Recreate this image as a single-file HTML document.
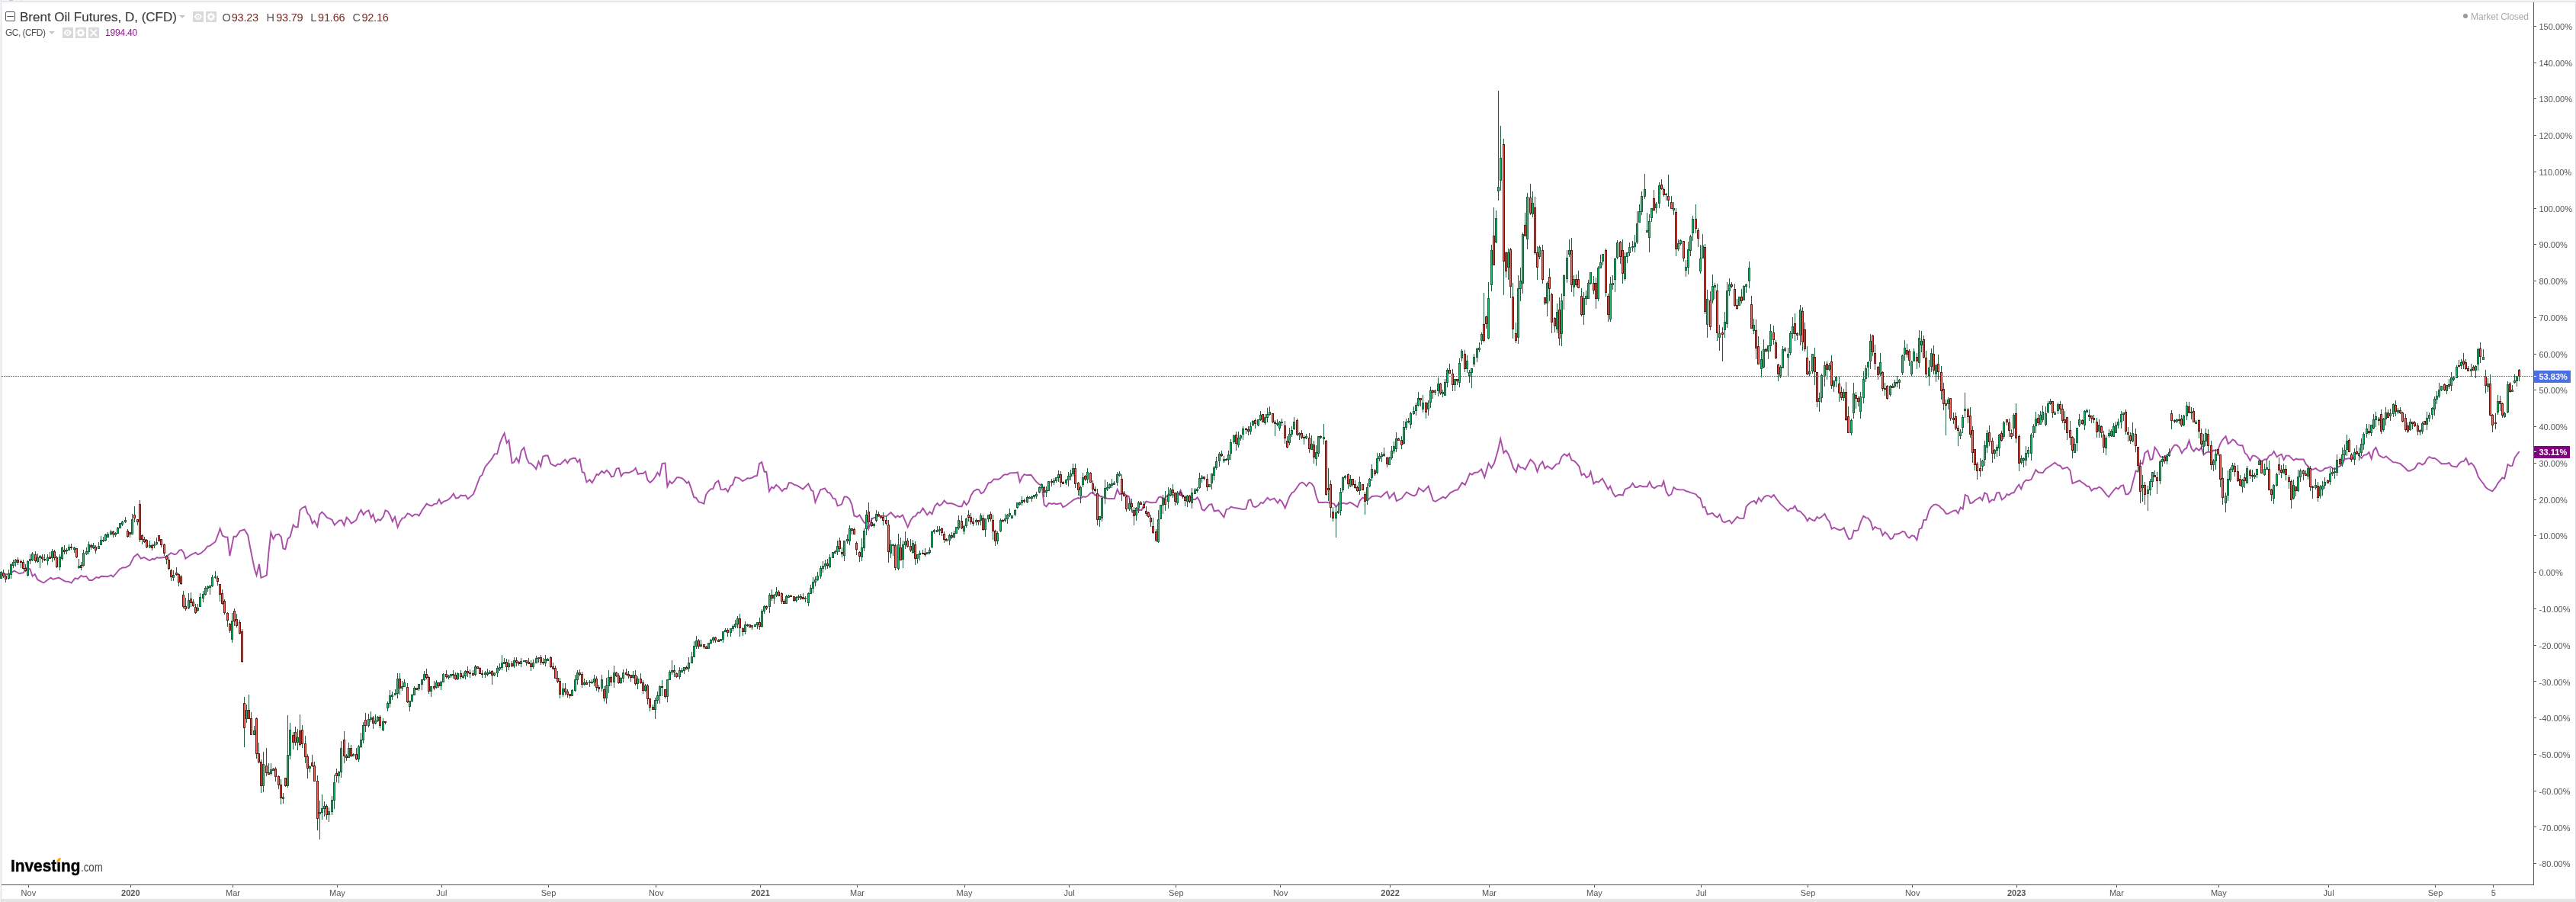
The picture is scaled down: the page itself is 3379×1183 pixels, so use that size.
<!DOCTYPE html>
<html><head><meta charset="utf-8"><title>Chart</title>
<style>
html,body{margin:0;padding:0;background:#fff;}
body{width:3379px;height:1183px;overflow:hidden;position:relative;font-family:"Liberation Sans",sans-serif;}
.abs{position:absolute;white-space:nowrap;}
div{will-change:opacity;}
.yl{position:absolute;left:3330.5px;font-size:11px;color:#555;line-height:12px;height:12px;white-space:nowrap;}
.xl{position:absolute;top:1165px;font-size:11px;color:#555;line-height:12px;width:60px;text-align:center;white-space:nowrap;}
.xl.b{font-weight:bold;}
.ic{position:absolute;width:14px;height:14px;background:#d9d9d9;}
.ohl,.ohn{top:13px;font-size:14.5px;line-height:20px;}
.ohn{color:#7a2a22;letter-spacing:-0.2px;}
</style></head><body>

<div class="abs" style="left:0;top:0;width:3379px;height:2px;background:#f2f4f8"></div>
<div class="abs" style="left:0;top:2px;width:3379px;height:1px;background:#d9dde1"></div>
<div class="abs" style="left:12px;top:0;width:5px;height:1px;background:#c2c3c5"></div>
<div class="abs" style="left:27px;top:0;width:1px;height:2px;background:#dadde2"></div>
<div class="abs" style="left:3378px;top:2px;width:1px;height:1178px;background:#d9dde1"></div>
<div class="abs" style="left:0;top:1179px;width:3379px;height:4px;background:#e4e5e7"></div>
<div class="abs" style="left:0;top:0;width:1px;height:1183px;background:#f4f5f9"></div>
<div class="abs" style="left:1px;top:0;width:1px;height:1183px;background:#dadde2"></div>
<svg class="abs" style="left:0;top:0" width="3379" height="1183" viewBox="0 0 3379 1183">
<polyline fill="none" stroke="#a443a4" stroke-opacity="0.95" stroke-width="1.9" stroke-linejoin="miter" stroke-miterlimit="5" points="1.3,751.7 8.0,753.1 12.0,753.1 18.6,748.5 25.3,752.3 30.6,751.2 34.6,745.1 39.4,746.4 42.6,755.7 45.8,753.1 49.2,760.2 57.2,764.5 66.5,757.6 69.7,759.7 77.1,757.6 85.1,762.4 90.4,762.9 93.6,764.5 98.4,758.4 102.4,759.2 106.4,754.9 109.6,756.5 113.1,755.7 117.1,761.0 121.0,761.0 126.4,757.1 129.6,757.9 133.0,755.7 141.0,756.3 145.8,754.4 148.4,756.5 157.0,746.4 160.9,744.5 164.9,744.3 170.3,741.1 175.6,730.4 180.4,726.5 184.9,732.6 188.9,731.0 196.3,735.2 200.1,732.6 202.2,733.6 206.2,731.0 208.8,731.8 215.5,731.0 219.5,729.1 224.3,725.1 228.8,727.3 231.4,726.5 235.4,721.7 238.1,721.1 240.8,724.6 243.4,732.6 250.1,727.8 256.7,724.6 259.4,727.3 263.4,725.7 268.7,721.1 272.1,716.6 275.3,715.8 282.5,710.5 286.0,701.2 288.6,693.2 291.8,702.5 295.3,704.4 298.5,704.4 301.4,729.1 306.5,703.8 309.9,703.8 314.7,696.4 320.6,694.5 325.1,701.7 328.5,719.8 333.9,746.4 336.5,754.4 340.0,739.8 342.4,757.8 345.8,756.5 349.8,754.3 352.4,724.8 355.3,698.4 358.5,706.8 361.7,701.6 365.6,700.5 368.8,704.2 371.4,719.5 374.3,720.3 377.5,706.8 380.7,703.7 384.6,688.4 387.5,691.3 390.7,691.3 393.4,669.3 396.5,666.2 400.5,664.1 403.4,673.3 406.6,676.7 409.7,686.5 412.6,683.1 416.3,690.5 419.2,674.6 422.4,671.5 425.6,674.6 428.7,678.6 431.9,679.9 435.6,681.8 438.8,688.6 442.2,685.2 445.1,682.5 448.3,682.5 451.4,689.1 454.6,678.6 457.8,681.8 460.9,686.5 464.1,684.4 467.3,682.0 470.4,674.1 473.6,668.8 476.8,675.2 479.9,671.2 483.6,669.3 486.8,679.1 489.4,674.6 492.6,684.7 495.8,681.2 498.9,682.5 502.9,677.3 505.5,669.3 508.7,670.7 511.6,675.4 514.8,683.9 518.0,677.8 521.6,691.3 524.8,683.9 528.0,679.4 530.6,679.1 534.6,673.3 537.8,674.6 540.7,677.3 543.8,674.6 547.0,674.6 549.6,676.5 553.6,669.3 559.7,660.6 562.8,662.5 566.3,663.5 569.7,660.9 572.9,660.6 576.0,654.8 578.7,660.6 582.1,657.5 585.5,656.7 588.7,654.8 591.9,651.7 594.8,647.4 597.9,653.5 601.1,653.0 604.5,649.6 607.7,650.3 610.6,649.6 613.8,654.3 617.7,650.9 620.9,648.2 623.5,641.6 629.6,625.0 632.3,623.2 636.2,612.6 639.4,608.6 643.3,604.1 646.0,600.2 648.6,595.4 652.1,595.4 656.0,580.9 658.7,573.8 661.6,568.2 664.7,580.9 667.4,577.5 671.6,607.3 674.0,606.5 677.4,600.7 680.6,606.5 683.7,591.5 687.4,587.0 690.9,601.2 693.8,607.3 696.4,607.8 699.6,610.7 703.3,615.2 706.4,605.2 709.3,611.8 712.2,598.6 715.4,597.5 718.6,597.5 722.3,608.1 725.2,610.0 728.6,611.3 731.8,608.6 734.7,609.2 741.3,602.8 744.4,607.3 747.6,602.6 751.0,601.2 754.5,600.7 757.6,606.0 760.5,602.6 763.7,619.2 766.4,620.0 769.5,632.4 773.5,629.2 776.7,633.2 779.6,627.9 782.7,621.8 784.8,623.2 789.3,617.9 792.5,620.5 795.7,616.6 799.1,620.0 802.0,625.3 805.2,624.5 808.6,614.7 811.8,613.9 814.9,624.5 817.8,620.5 821.0,619.7 825.0,620.0 828.4,618.4 830.8,617.3 833.7,613.9 836.8,621.8 840.3,621.0 843.4,621.0 846.6,618.4 849.5,629.8 852.7,632.9 855.8,630.3 859.3,625.8 862.4,619.7 865.3,623.7 868.5,608.1 872.5,607.3 875.4,638.2 878.5,631.1 881.2,634.2 884.4,631.1 887.8,626.3 891.0,626.3 894.4,627.1 897.6,629.8 901.0,633.7 903.4,631.6 906.8,641.1 910.2,652.2 912.9,652.7 916.6,658.3 919.2,658.8 923.4,660.6 926.1,648.8 929.2,644.3 932.7,641.1 935.3,641.1 938.5,633.2 942.4,630.5 945.6,642.2 948.5,642.4 951.7,640.8 954.8,644.8 958.3,637.1 960.9,635.8 964.3,625.8 967.5,626.6 970.1,627.6 974.1,631.1 977.3,629.2 980.7,627.1 983.3,627.6 986.8,626.6 989.9,624.5 993.1,623.9 996.0,608.1 999.2,606.0 1002.6,618.7 1005.3,618.7 1009.0,644.3 1012.2,638.8 1014.9,640.4 1018.2,635.9 1021.7,638.8 1025.9,644.3 1028.8,641.0 1031.7,641.0 1034.8,633.3 1037.7,633.3 1042.1,635.9 1045.4,636.6 1053.2,641.5 1060.3,634.4 1064.3,643.2 1066.5,643.9 1069.4,658.8 1076.0,642.6 1082.0,640.4 1085.8,645.9 1088.7,646.6 1092.7,653.7 1095.8,654.3 1098.7,663.6 1104.2,661.4 1107.5,651.4 1110.9,651.7 1114.2,654.3 1117.5,662.1 1120.4,676.5 1124.2,678.0 1127.5,675.4 1133.5,685.4 1136.3,686.5 1139.2,694.2 1143.7,680.3 1146.3,679.1 1153.0,676.9 1163.0,676.9 1168.5,672.1 1174.7,678.7 1177.4,676.5 1180.2,678.3 1184.0,675.4 1190.7,691.3 1194.7,682.0 1198.0,677.6 1200.6,677.2 1204.0,672.1 1206.6,672.7 1210.6,666.5 1216.2,675.4 1219.5,671.4 1222.6,674.3 1226.1,663.9 1229.5,659.9 1232.3,663.2 1235.5,661.0 1238.6,656.5 1242.3,660.3 1248.3,660.3 1251.6,661.4 1257.6,664.3 1261.6,664.3 1264.5,657.2 1267.6,662.1 1270.5,658.8 1273.6,649.9 1277.1,644.3 1281.6,641.7 1283.8,642.1 1287.1,647.2 1290.4,645.4 1296.6,633.3 1299.7,632.8 1303.7,628.4 1309.3,628.8 1312.6,627.0 1315.9,623.3 1318.6,622.2 1321.5,622.6 1324.6,620.4 1332.6,620.0 1334.8,619.5 1337.7,632.1 1340.8,625.5 1343.6,622.2 1347.0,623.3 1352.5,622.8 1356.9,628.8 1360.3,632.8 1363.6,635.5 1366.5,636.6 1369.6,662.1 1372.5,664.3 1375.8,659.9 1380.0,661.0 1382.4,660.1 1385.5,661.2 1391.5,660.1 1394.4,665.2 1398.4,663.0 1404.4,658.6 1408.8,655.2 1414.3,653.0 1417.2,653.7 1420.5,651.2 1423.4,651.9 1426.5,650.8 1430.3,646.8 1433.6,645.9 1436.5,649.7 1439.6,648.1 1443.2,650.8 1446.5,651.9 1452.5,653.7 1461.8,654.1 1465.6,641.9 1468.7,648.1 1471.5,647.5 1474.6,648.1 1480.9,651.2 1483.1,660.8 1485.3,671.9 1487.5,673.0 1490.8,669.0 1497.5,669.0 1500.8,661.9 1503.5,657.5 1509.5,659.2 1516.3,659.0 1519.7,652.4 1522.5,651.5 1525.6,654.1 1528.5,653.0 1532.5,648.6 1538.5,649.0 1544.7,650.8 1548.5,643.0 1551.8,650.8 1558.4,653.0 1563.8,654.8 1567.8,655.2 1570.6,652.4 1573.7,657.5 1576.6,668.1 1579.7,669.7 1586.2,661.9 1589.5,661.2 1592.6,670.3 1598.4,669.2 1602.3,674.1 1605.5,678.5 1608.6,668.1 1611.7,667.4 1614.8,664.6 1618.5,665.9 1624.5,666.8 1630.7,668.1 1634.5,667.4 1637.6,656.3 1640.5,655.2 1643.6,664.1 1646.7,665.2 1650.7,663.0 1653.8,659.2 1656.7,660.1 1662.7,652.6 1665.8,655.9 1671.5,653.7 1676.0,659.7 1678.8,655.2 1681.9,658.6 1685.7,666.3 1691.5,651.2 1694.6,646.4 1697.7,644.6 1704.8,634.2 1708.1,632.6 1710.8,634.2 1713.6,637.5 1717.4,632.6 1720.5,634.2 1723.6,638.6 1726.5,650.8 1729.6,659.0 1735.8,659.0 1739.6,658.6 1745.6,659.7 1750.0,660.8 1752.4,665.0 1755.5,660.9 1758.6,660.9 1761.7,659.7 1766.4,660.9 1771.0,658.8 1774.8,660.9 1780.6,665.0 1783.8,656.6 1787.5,652.6 1791.2,654.1 1794.3,655.7 1799.6,651.0 1806.7,650.4 1811.4,651.9 1816.3,647.3 1819.4,644.8 1822.5,653.5 1828.7,646.3 1831.8,657.2 1838.7,653.5 1844.9,645.4 1850.8,648.8 1854.8,650.4 1857.9,648.5 1861.0,640.1 1867.2,644.8 1873.7,637.7 1876.8,647.3 1879.9,656.6 1883.0,657.8 1893.0,651.6 1896.1,653.5 1902.3,646.3 1908.5,643.2 1912.2,642.3 1917.8,633.0 1921.8,636.1 1928.0,620.9 1930.8,622.5 1933.9,620.0 1938.6,619.4 1943.2,615.3 1947.3,626.2 1952.6,607.6 1956.3,613.8 1960.0,607.6 1965.0,590.2 1968.2,575.6 1972.4,594.1 1975.3,590.7 1978.5,595.4 1981.7,603.4 1984.8,613.4 1988.8,619.2 1991.4,609.2 1994.3,613.4 1997.5,613.4 2000.7,615.8 2004.6,608.1 2007.5,602.8 2010.7,605.5 2013.4,609.2 2016.5,618.7 2019.7,610.0 2023.4,605.5 2026.6,614.4 2029.7,611.3 2035.8,615.2 2041.6,608.6 2045.0,608.1 2048.2,599.4 2051.9,595.4 2055.6,598.1 2058.2,594.9 2061.4,603.4 2065.1,604.7 2068.3,607.8 2071.4,611.8 2074.6,623.2 2077.8,621.3 2080.9,626.3 2084.1,624.5 2086.5,618.7 2090.4,634.5 2093.6,631.6 2096.8,632.4 2101.8,627.6 2105.7,634.5 2109.4,641.6 2112.1,637.7 2115.8,646.9 2118.9,651.4 2122.9,649.0 2125.5,648.8 2128.7,649.6 2131.6,641.6 2134.8,640.3 2138.0,639.0 2141.6,633.7 2144.8,639.0 2148.0,639.0 2151.2,636.9 2154.6,638.2 2160.7,638.2 2163.8,631.9 2167.0,638.5 2170.2,640.3 2173.6,637.7 2176.5,636.9 2179.7,637.7 2182.3,631.1 2185.7,645.1 2188.9,650.3 2192.3,648.2 2195.5,639.0 2198.7,641.6 2202.1,642.2 2208.7,642.4 2211.9,644.3 2214.8,644.8 2217.9,646.1 2224.5,648.2 2227.7,652.2 2230.3,653.5 2233.8,665.4 2236.4,664.9 2239.6,674.6 2243.0,673.8 2246.2,672.8 2249.6,676.7 2252.8,678.6 2255.7,674.6 2259.4,683.9 2262.3,685.2 2266.0,683.3 2268.6,682.5 2271.5,686.5 2278.7,677.8 2281.8,679.9 2287.4,679.9 2290.5,664.6 2293.2,661.4 2297.1,658.3 2301.1,656.9 2303.7,660.6 2306.9,653.0 2310.3,657.5 2313.8,652.2 2316.9,650.1 2320.1,650.1 2323.3,652.2 2326.7,649.0 2330.1,654.0 2335.4,660.9 2339.4,664.6 2345.4,670.1 2348.6,666.7 2351.8,666.7 2354.4,663.5 2357.8,669.9 2361.3,670.7 2364.4,673.8 2367.6,677.3 2370.8,683.1 2373.4,679.4 2377.1,682.0 2380.3,683.1 2383.5,677.8 2386.1,679.9 2389.5,677.8 2393.5,673.8 2396.7,680.7 2399.6,683.9 2402.7,693.6 2405.9,691.8 2409.3,693.9 2413.3,695.2 2415.9,694.4 2418.8,692.3 2422.0,700.5 2425.2,707.1 2428.6,706.3 2431.8,695.7 2434.4,696.3 2437.3,695.2 2441.0,683.9 2444.4,676.7 2447.6,679.1 2450.2,679.4 2453.7,683.9 2456.8,694.4 2459.5,691.0 2462.9,693.1 2466.6,693.9 2469.5,702.3 2472.7,697.9 2475.8,701.0 2479.8,707.1 2482.4,706.3 2485.3,700.5 2488.5,700.5 2492.5,699.2 2495.4,697.1 2498.5,697.6 2501.7,703.7 2504.4,705.5 2507.8,702.3 2511.0,703.1 2514.4,708.4 2517.6,693.9 2520.7,692.6 2523.4,682.0 2526.8,681.8 2530.2,670.1 2532.9,665.4 2536.6,662.0 2539.2,661.4 2543.4,663.3 2546.1,666.2 2549.2,668.6 2552.7,673.8 2555.3,673.8 2558.5,672.0 2562.4,669.9 2565.6,669.3 2568.5,673.3 2571.7,665.4 2574.8,667.5 2577.7,649.0 2581.4,650.9 2584.3,660.1 2587.5,659.3 2590.7,656.2 2594.1,654.0 2597.3,652.2 2600.2,656.2 2603.3,646.4 2606.5,648.2 2609.4,658.8 2613.1,655.4 2615.8,656.2 2619.2,646.4 2622.6,646.1 2625.8,655.4 2630.0,652.2 2632.4,648.0 2635.3,649.3 2638.5,646.7 2641.7,646.1 2644.6,640.8 2648.3,635.5 2651.2,641.3 2654.4,632.8 2657.6,629.6 2660.6,630.2 2664.5,628.8 2670.4,616.1 2673.6,619.5 2679.7,620.1 2683.4,615.0 2689.5,611.0 2695.4,606.8 2699.4,610.2 2702.3,610.7 2705.5,615.0 2711.6,612.9 2715.4,616.9 2718.5,634.2 2724.7,631.5 2727.9,630.2 2730.0,632.0 2734.2,634.8 2737.3,637.5 2740.4,638.0 2743.5,643.7 2746.6,640.8 2750.4,640.8 2753.5,638.6 2756.6,640.8 2759.9,644.6 2762.8,648.6 2766.1,651.9 2769.2,647.5 2772.6,643.1 2775.7,639.7 2778.8,641.3 2782.1,637.1 2785.2,636.4 2788.3,648.2 2791.4,648.2 2794.7,644.2 2797.6,633.1 2801.6,617.5 2804.5,618.7 2807.6,606.5 2810.5,608.7 2813.4,594.3 2817.4,590.9 2820.5,603.1 2823.4,602.0 2826.5,586.5 2829.6,590.9 2833.6,598.7 2836.7,599.8 2839.8,598.7 2842.9,597.1 2846.0,594.3 2849.1,588.3 2852.4,583.8 2855.5,583.8 2858.6,586.9 2861.9,594.3 2865.0,589.8 2868.2,587.6 2871.5,577.6 2874.6,588.3 2877.7,592.0 2880.8,587.6 2884.6,590.9 2887.7,586.9 2890.6,596.5 2893.7,593.6 2896.8,592.7 2900.5,593.2 2903.6,590.5 2906.7,590.9 2909.4,589.8 2912.5,581.6 2915.6,576.5 2919.6,572.1 2922.7,582.1 2925.8,579.8 2928.5,576.5 2931.6,578.1 2935.4,583.2 2938.5,584.3 2941.6,584.3 2944.7,594.3 2947.6,596.5 2951.5,604.2 2954.7,597.6 2957.3,597.6 2960.4,599.4 2963.5,602.5 2966.6,605.3 2970.6,602.5 2973.5,602.5 2976.6,597.6 2979.7,596.5 2982.8,592.0 2986.6,599.4 2989.7,597.1 2992.8,595.8 2995.7,603.1 2998.6,597.6 3002.6,597.6 3005.7,600.9 3008.8,603.8 3011.7,601.6 3014.5,602.5 3021.6,602.5 3024.7,608.7 3027.8,612.0 3030.5,615.3 3033.6,615.8 3037.6,614.2 3040.5,616.4 3043.4,618.0 3046.5,617.1 3049.6,614.2 3053.3,613.6 3056.7,612.0 3060.0,614.2 3062.5,615.7 3065.4,613.0 3069.2,611.7 3072.4,609.0 3075.6,602.4 3078.7,601.6 3081.7,601.0 3084.6,602.9 3088.3,598.4 3091.5,593.0 3094.4,597.0 3097.6,601.0 3100.6,597.0 3104.6,596.2 3107.5,593.0 3110.7,601.8 3113.6,590.4 3116.5,586.9 3120.5,597.0 3123.5,598.9 3126.7,600.5 3129.8,598.4 3132.8,601.0 3139.4,606.4 3142.4,606.4 3148.5,608.2 3155.4,614.3 3158.3,617.5 3161.3,617.5 3167.6,614.3 3171.6,607.7 3174.0,607.2 3177.2,609.5 3180.4,607.7 3183.3,602.4 3186.5,599.2 3190.3,601.0 3193.7,601.0 3196.7,602.9 3202.5,608.2 3209.4,608.2 3212.6,606.9 3215.6,611.1 3222.5,612.5 3225.4,608.2 3228.3,605.6 3231.8,605.0 3234.7,601.0 3238.4,609.5 3241.6,607.2 3244.6,610.3 3247.5,615.7 3250.7,625.0 3253.6,629.5 3257.6,634.3 3260.5,639.1 3263.5,641.5 3269.3,644.4 3273.6,639.1 3276.5,633.8 3282.4,626.3 3285.3,627.6 3289.5,609.0 3292.5,611.1 3295.4,610.9 3298.6,600.5 3301.5,596.2 3304.7,592.2"/>
<g shape-rendering="crispEdges">
<path fill="#1f5d3d" d="M1 749h1v10h-1zM0 750h3v9h-3zM4 747h1v11h-1zM7 753h1v11h-1zM11 747h1v13h-1zM10 752h3v7h-3zM14 739h1v20h-1zM13 740h3v14h-3zM17 734h1v11h-1zM16 737h3v5h-3zM20 733h1v10h-1zM19 734h3v4h-3zM23 731h1v10h-1zM27 734h1v11h-1zM30 734h1v13h-1zM33 740h1v10h-1zM36 735h1v21h-1zM35 736h3v19h-3zM39 727h1v13h-1zM38 733h3v3h-3zM42 724h1v12h-1zM41 726h3v9h-3zM46 723h1v15h-1zM49 726h1v12h-1zM48 731h3v6h-3zM52 728h1v17h-1zM51 729h3v3h-3zM55 727h1v11h-1zM58 727h1v9h-1zM62 727h1v14h-1zM61 731h3v5h-3zM65 724h1v9h-1zM68 720h1v17h-1zM67 723h3v9h-3zM71 721h1v14h-1zM74 729h1v16h-1zM78 727h1v21h-1zM77 730h3v14h-3zM81 717h1v18h-1zM80 718h3v15h-3zM84 715h1v12h-1zM87 719h1v8h-1zM86 721h3v2h-3zM90 714h1v8h-1zM89 717h3v5h-3zM93 713h1v8h-1zM97 717h1v8h-1zM96 718h3v3h-3zM100 719h1v13h-1zM103 733h1v13h-1zM102 742h3v3h-3zM106 737h1v11h-1zM109 721h1v22h-1zM108 725h3v17h-3zM113 718h1v10h-1zM112 723h3v4h-3zM116 710h1v17h-1zM115 714h3v10h-3zM119 713h1v8h-1zM122 712h1v8h-1zM121 715h3v4h-3zM125 715h1v11h-1zM129 711h1v9h-1zM128 716h3v4h-3zM132 703h1v12h-1zM131 708h3v7h-3zM135 704h1v7h-1zM134 708h3v2h-3zM138 700h1v10h-1zM137 701h3v8h-3zM141 698h1v7h-1zM140 700h3v5h-3zM145 695h1v7h-1zM144 697h3v4h-3zM148 696h1v9h-1zM151 698h1v6h-1zM150 699h3v3h-3zM154 691h1v9h-1zM153 692h3v8h-3zM157 686h1v7h-1zM156 686h3v7h-3zM160 683h1v7h-1zM159 684h3v4h-3zM164 678h1v8h-1zM163 682h3v3h-3zM167 694h1v11h-1zM170 698h1v7h-1zM173 674h1v27h-1zM172 681h3v20h-3zM176 664h1v21h-1zM180 681h1v8h-1zM183 656h1v55h-1zM186 701h1v13h-1zM189 704h1v8h-1zM192 707h1v12h-1zM196 709h1v10h-1zM195 715h3v3h-3zM199 713h1v9h-1zM202 710h1v9h-1zM201 714h3v2h-3zM205 705h1v10h-1zM204 711h3v3h-3zM208 702h1v8h-1zM211 707h1v11h-1zM215 713h1v16h-1zM218 728h1v12h-1zM221 730h1v18h-1zM224 746h1v16h-1zM227 748h1v14h-1zM226 754h3v4h-3zM231 744h1v11h-1zM234 752h1v17h-1zM237 754h1v13h-1zM240 775h1v23h-1zM243 784h1v17h-1zM247 778h1v21h-1zM246 787h3v11h-3zM250 777h1v19h-1zM253 786h1v10h-1zM256 792h1v13h-1zM259 792h1v10h-1zM258 797h3v4h-3zM262 778h1v18h-1zM261 783h3v13h-3zM266 775h1v15h-1zM265 779h3v6h-3zM269 769h1v12h-1zM268 771h3v9h-3zM272 768h1v8h-1zM271 769h3v3h-3zM275 767h1v13h-1zM274 768h3v3h-3zM278 754h1v16h-1zM277 757h3v12h-3zM282 749h1v10h-1zM281 756h3v2h-3zM285 755h1v13h-1zM288 766h1v23h-1zM291 773h1v20h-1zM294 786h1v20h-1zM298 803h1v19h-1zM301 817h1v13h-1zM304 804h1v39h-1zM303 814h3v25h-3zM307 798h1v23h-1zM310 805h1v18h-1zM314 813h1v19h-1zM317 825h1v44h-1zM320 914h1v66h-1zM323 924h1v24h-1zM322 931h3v12h-3zM326 911h1v32h-1zM329 934h1v30h-1zM333 952h1v12h-1zM332 958h3v6h-3zM336 941h1v54h-1zM339 974h1v27h-1zM342 996h1v44h-1zM345 986h1v53h-1zM344 1002h3v29h-3zM349 981h1v37h-1zM352 1001h1v14h-1zM355 1001h1v16h-1zM354 1009h3v6h-3zM358 1007h1v4h-1zM357 1008h3v3h-3zM361 1006h1v19h-1zM365 1017h1v18h-1zM368 1022h1v33h-1zM371 1040h1v14h-1zM370 1045h3v3h-3zM374 1020h1v12h-1zM377 938h1v95h-1zM376 990h3v41h-3zM380 948h1v48h-1zM379 957h3v34h-3zM384 960h1v23h-1zM387 953h1v25h-1zM390 956h1v28h-1zM389 967h3v7h-3zM393 937h1v42h-1zM396 951h1v30h-1zM400 965h1v36h-1zM403 989h1v32h-1zM406 1004h1v9h-1zM405 1005h3v3h-3zM409 990h1v16h-1zM412 999h1v26h-1zM416 1017h1v72h-1zM419 1050h1v51h-1zM418 1065h3v3h-3zM422 1042h1v33h-1zM421 1060h3v6h-3zM425 1051h1v20h-1zM424 1057h3v4h-3zM428 1055h1v20h-1zM431 1059h1v19h-1zM430 1064h3v5h-3zM435 1044h1v25h-1zM434 1049h3v16h-3zM438 1016h1v45h-1zM437 1026h3v24h-3zM441 1008h1v18h-1zM444 1011h1v16h-1zM443 1012h3v6h-3zM447 972h1v48h-1zM446 981h3v32h-3zM451 959h1v42h-1zM454 989h1v9h-1zM457 974h1v20h-1zM456 981h3v13h-3zM460 977h1v16h-1zM463 988h1v4h-1zM462 989h3v3h-3zM467 981h1v16h-1zM470 977h1v22h-1zM469 979h3v17h-3zM473 961h1v20h-1zM472 970h3v10h-3zM476 947h1v28h-1zM475 951h3v20h-3zM479 935h1v25h-1zM483 936h1v18h-1zM482 943h3v9h-3zM486 933h1v14h-1zM485 941h3v3h-3zM489 939h1v17h-1zM492 937h1v13h-1zM491 945h3v4h-3zM495 939h1v8h-1zM494 940h3v6h-3zM498 938h1v17h-1zM502 942h1v17h-1zM501 946h3v12h-3zM505 946h1v4h-1zM508 920h1v13h-1zM507 922h3v7h-3zM511 905h1v23h-1zM510 912h3v11h-3zM514 907h1v11h-1zM513 911h3v3h-3zM518 904h1v8h-1zM517 909h3v3h-3zM521 883h1v33h-1zM520 890h3v20h-3zM524 883h1v28h-1zM527 893h1v13h-1zM526 900h3v3h-3zM530 891h1v10h-1zM529 895h3v6h-3zM534 896h1v26h-1zM537 919h1v14h-1zM536 919h3v8h-3zM540 910h1v11h-1zM539 911h3v9h-3zM543 900h1v12h-1zM542 902h3v10h-3zM546 902h1v3h-1zM549 897h1v9h-1zM548 897h3v7h-3zM553 891h1v14h-1zM552 891h3v7h-3zM556 880h1v13h-1zM555 884h3v8h-3zM559 877h1v14h-1zM562 886h1v24h-1zM565 900h1v14h-1zM564 900h3v7h-3zM569 893h1v12h-1zM572 892h1v11h-1zM571 895h3v7h-3zM575 895h1v7h-1zM578 893h1v12h-1zM577 894h3v6h-3zM581 883h1v12h-1zM580 884h3v11h-3zM585 879h1v11h-1zM588 885h1v6h-1zM587 886h3v3h-3zM591 884h1v5h-1zM590 884h3v3h-3zM594 879h1v11h-1zM597 882h1v10h-1zM600 882h1v10h-1zM599 883h3v8h-3zM604 879h1v12h-1zM607 882h1v8h-1zM606 886h3v3h-3zM610 879h1v12h-1zM609 880h3v7h-3zM613 874h1v14h-1zM616 878h1v11h-1zM620 879h1v7h-1zM623 872h1v15h-1zM622 874h3v11h-3zM626 874h1v3h-1zM629 875h1v9h-1zM632 879h1v10h-1zM636 880h1v9h-1zM635 882h3v3h-3zM639 877h1v10h-1zM638 882h3v3h-3zM642 879h1v5h-1zM641 881h3v3h-3zM645 879h1v19h-1zM648 882h1v5h-1zM647 882h3v4h-3zM652 873h1v15h-1zM651 876h3v7h-3zM655 870h1v10h-1zM654 875h3v3h-3zM658 859h1v20h-1zM657 869h3v7h-3zM661 863h1v7h-1zM660 868h3v3h-3zM664 864h1v17h-1zM667 865h1v14h-1zM666 870h3v5h-3zM671 867h1v8h-1zM674 862h1v14h-1zM673 866h3v8h-3zM677 862h1v12h-1zM680 867h1v6h-1zM683 863h1v12h-1zM682 867h3v4h-3zM687 866h1v2h-1zM686 866h3v2h-3zM690 866h1v7h-1zM693 863h1v8h-1zM696 866h1v14h-1zM699 865h1v12h-1zM698 869h3v6h-3zM703 860h1v10h-1zM702 863h3v7h-3zM706 862h1v7h-1zM705 862h3v2h-3zM709 859h1v13h-1zM712 863h1v9h-1zM715 859h1v15h-1zM714 864h3v6h-3zM718 863h1v3h-1zM717 864h3v3h-3zM722 861h1v15h-1zM725 869h1v10h-1zM728 873h1v17h-1zM731 880h1v16h-1zM734 889h1v27h-1zM738 896h1v18h-1zM737 903h3v8h-3zM741 896h1v16h-1zM744 904h1v11h-1zM747 910h1v6h-1zM750 904h1v9h-1zM749 905h3v8h-3zM754 885h1v22h-1zM753 891h3v15h-3zM757 879h1v19h-1zM756 882h3v10h-3zM760 878h1v9h-1zM763 881h1v21h-1zM766 890h1v9h-1zM765 895h3v3h-3zM769 892h1v5h-1zM773 892h1v9h-1zM772 894h3v2h-3zM776 891h1v6h-1zM775 894h3v2h-3zM779 885h1v15h-1zM778 890h3v5h-3zM782 887h1v19h-1zM785 898h1v10h-1zM789 885h1v22h-1zM788 891h3v12h-3zM792 900h1v20h-1zM795 889h1v34h-1zM794 899h3v17h-3zM798 879h1v30h-1zM797 888h3v12h-3zM801 886h1v14h-1zM805 873h1v29h-1zM804 882h3v13h-3zM808 881h1v7h-1zM811 883h1v14h-1zM814 888h1v9h-1zM813 889h3v7h-3zM817 878h1v17h-1zM816 882h3v8h-3zM821 877h1v9h-1zM824 880h1v10h-1zM827 885h1v9h-1zM830 880h1v10h-1zM829 885h3v4h-3zM833 879h1v20h-1zM836 887h1v17h-1zM835 890h3v7h-3zM840 883h1v14h-1zM843 892h1v18h-1zM846 897h1v10h-1zM845 899h3v7h-3zM849 897h1v27h-1zM852 916h1v17h-1zM856 924h1v7h-1zM859 915h1v28h-1zM858 918h3v13h-3zM862 907h1v16h-1zM861 912h3v7h-3zM865 899h1v24h-1zM864 900h3v13h-3zM868 892h1v21h-1zM872 904h1v12h-1zM875 891h1v30h-1zM874 891h3v23h-3zM878 879h1v13h-1zM877 881h3v11h-3zM881 866h1v19h-1zM880 879h3v3h-3zM884 872h1v16h-1zM887 882h1v7h-1zM891 875h1v16h-1zM890 879h3v9h-3zM894 876h1v5h-1zM893 879h3v3h-3zM897 875h1v9h-1zM896 875h3v5h-3zM900 873h1v4h-1zM903 862h1v19h-1zM902 869h3v8h-3zM907 855h1v15h-1zM906 861h3v9h-3zM910 841h1v21h-1zM909 847h3v15h-3zM913 834h1v17h-1zM912 840h3v8h-3zM916 838h1v13h-1zM919 839h1v10h-1zM918 845h3v3h-3zM923 845h1v6h-1zM926 847h1v4h-1zM929 843h1v8h-1zM928 843h3v8h-3zM932 838h1v7h-1zM931 839h3v5h-3zM935 835h1v8h-1zM934 836h3v4h-3zM938 835h1v8h-1zM942 838h1v4h-1zM945 838h1v3h-1zM944 838h3v3h-3zM948 828h1v15h-1zM947 828h3v11h-3zM951 824h1v5h-1zM950 826h3v3h-3zM954 824h1v11h-1zM958 824h1v11h-1zM957 824h3v6h-3zM961 819h1v9h-1zM960 821h3v4h-3zM964 813h1v11h-1zM963 818h3v4h-3zM967 808h1v16h-1zM966 811h3v8h-3zM970 805h1v30h-1zM974 823h1v11h-1zM977 815h1v17h-1zM976 819h3v10h-3zM980 818h1v4h-1zM979 819h3v2h-3zM983 819h1v4h-1zM986 820h1v6h-1zM985 820h3v3h-3zM990 818h1v4h-1zM989 819h3v3h-3zM993 816h1v9h-1zM992 816h3v4h-3zM996 810h1v16h-1zM999 799h1v24h-1zM998 801h3v21h-3zM1002 794h1v11h-1zM1001 795h3v7h-3zM1005 794h1v6h-1zM1009 778h1v26h-1zM1008 780h3v16h-3zM1012 773h1v15h-1zM1015 779h1v13h-1zM1014 780h3v5h-3zM1018 770h1v13h-1zM1017 776h3v5h-3zM1021 774h1v8h-1zM1025 777h1v15h-1zM1028 786h1v6h-1zM1031 780h1v12h-1zM1030 782h3v10h-3zM1034 780h1v4h-1zM1033 781h3v3h-3zM1037 780h1v3h-1zM1041 782h1v7h-1zM1044 782h1v8h-1zM1043 783h3v5h-3zM1047 780h1v7h-1zM1046 782h3v2h-3zM1050 779h1v8h-1zM1053 778h1v8h-1zM1056 782h1v8h-1zM1055 784h3v2h-3zM1060 777h1v18h-1zM1059 778h3v13h-3zM1063 767h1v12h-1zM1062 771h3v8h-3zM1066 757h1v21h-1zM1065 763h3v9h-3zM1069 756h1v13h-1zM1068 760h3v4h-3zM1072 750h1v12h-1zM1071 755h3v6h-3zM1076 742h1v17h-1zM1075 745h3v11h-3zM1079 736h1v15h-1zM1078 742h3v4h-3zM1082 734h1v13h-1zM1081 739h3v4h-3zM1085 733h1v13h-1zM1088 727h1v18h-1zM1087 731h3v13h-3zM1092 724h1v8h-1zM1091 724h3v8h-3zM1095 721h1v5h-1zM1094 723h3v3h-3zM1098 709h1v19h-1zM1097 716h3v8h-3zM1101 705h1v19h-1zM1104 718h1v13h-1zM1107 709h1v27h-1zM1106 709h3v20h-3zM1111 701h1v12h-1zM1110 707h3v3h-3zM1114 689h1v26h-1zM1113 693h3v17h-3zM1117 693h1v8h-1zM1120 692h1v9h-1zM1123 710h1v18h-1zM1127 723h1v14h-1zM1130 706h1v30h-1zM1129 718h3v13h-3zM1133 693h1v30h-1zM1132 696h3v23h-3zM1136 669h1v33h-1zM1135 675h3v19h-3zM1139 659h1v32h-1zM1143 679h1v12h-1zM1146 686h1v6h-1zM1145 687h3v3h-3zM1149 669h1v16h-1zM1148 674h3v9h-3zM1152 671h1v6h-1zM1155 676h1v5h-1zM1158 672h1v17h-1zM1162 677h1v12h-1zM1165 682h1v56h-1zM1168 708h1v24h-1zM1167 714h3v12h-3zM1171 713h1v16h-1zM1170 714h3v2h-3zM1174 713h1v35h-1zM1178 700h1v48h-1zM1177 714h3v32h-3zM1181 705h1v30h-1zM1184 709h1v36h-1zM1183 714h3v20h-3zM1187 697h1v23h-1zM1186 710h3v5h-3zM1190 706h1v12h-1zM1194 707h1v17h-1zM1197 708h1v18h-1zM1196 712h3v13h-3zM1200 710h1v31h-1zM1203 727h1v12h-1zM1202 727h3v6h-3zM1206 722h1v13h-1zM1205 725h3v3h-3zM1210 721h1v6h-1zM1213 719h1v11h-1zM1216 724h1v3h-1zM1215 724h3v3h-3zM1219 718h1v9h-1zM1218 721h3v4h-3zM1222 696h1v23h-1zM1221 697h3v21h-3zM1225 694h1v6h-1zM1224 695h3v3h-3zM1229 690h1v6h-1zM1228 695h3v3h-3zM1232 690h1v12h-1zM1231 694h3v2h-3zM1235 692h1v11h-1zM1238 697h1v15h-1zM1241 706h1v4h-1zM1245 700h1v15h-1zM1244 702h3v7h-3zM1248 698h1v9h-1zM1251 696h1v10h-1zM1250 699h3v6h-3zM1254 691h1v9h-1zM1253 691h3v9h-3zM1257 676h1v19h-1zM1256 682h3v11h-3zM1261 676h1v18h-1zM1264 688h1v13h-1zM1263 690h3v7h-3zM1267 679h1v13h-1zM1266 680h3v10h-3zM1270 669h1v15h-1zM1273 673h1v15h-1zM1276 679h1v11h-1zM1280 680h1v9h-1zM1279 682h3v3h-3zM1283 682h1v7h-1zM1286 673h1v16h-1zM1285 676h3v7h-3zM1289 675h1v21h-1zM1292 680h1v24h-1zM1291 680h3v15h-3zM1296 675h1v10h-1zM1295 675h3v6h-3zM1299 671h1v13h-1zM1302 675h1v33h-1zM1305 695h1v21h-1zM1308 697h1v17h-1zM1307 699h3v11h-3zM1312 680h1v18h-1zM1311 682h3v15h-3zM1315 681h1v4h-1zM1318 674h1v11h-1zM1317 680h3v3h-3zM1321 674h1v13h-1zM1320 675h3v6h-3zM1324 667h1v11h-1zM1323 673h3v3h-3zM1327 676h1v4h-1zM1326 676h3v4h-3zM1331 668h1v9h-1zM1330 669h3v6h-3zM1334 659h1v8h-1zM1333 659h3v7h-3zM1337 658h1v5h-1zM1336 659h3v3h-3zM1340 651h1v12h-1zM1339 656h3v4h-3zM1343 654h1v6h-1zM1347 650h1v10h-1zM1346 652h3v7h-3zM1350 651h1v2h-1zM1349 652h3v2h-3zM1353 650h1v8h-1zM1352 651h3v3h-3zM1356 649h1v5h-1zM1355 649h3v3h-3zM1359 645h1v9h-1zM1358 648h3v3h-3zM1363 638h1v9h-1zM1362 639h3v7h-3zM1366 634h1v8h-1zM1365 635h3v5h-3zM1369 637h1v15h-1zM1372 638h1v14h-1zM1371 643h3v3h-3zM1375 631h1v13h-1zM1374 631h3v13h-3zM1379 628h1v10h-1zM1382 627h1v9h-1zM1381 630h3v3h-3zM1385 626h1v7h-1zM1384 626h3v5h-3zM1388 617h1v15h-1zM1387 622h3v5h-3zM1391 618h1v21h-1zM1394 631h1v3h-1zM1398 628h1v8h-1zM1397 629h3v5h-3zM1401 619h1v19h-1zM1400 624h3v6h-3zM1404 616h1v14h-1zM1403 621h3v4h-3zM1407 608h1v17h-1zM1406 614h3v8h-3zM1410 608h1v32h-1zM1414 632h1v18h-1zM1417 637h1v23h-1zM1416 639h3v12h-3zM1420 620h1v19h-1zM1419 626h3v10h-3zM1423 623h1v8h-1zM1426 614h1v20h-1zM1425 619h3v10h-3zM1430 619h1v14h-1zM1433 630h1v18h-1zM1436 638h1v8h-1zM1439 641h1v48h-1zM1442 677h1v14h-1zM1441 677h3v5h-3zM1445 650h1v34h-1zM1444 653h3v27h-3zM1449 629h1v32h-1zM1448 640h3v14h-3zM1452 632h1v12h-1zM1451 639h3v3h-3zM1455 634h1v7h-1zM1454 635h3v5h-3zM1458 628h1v12h-1zM1457 634h3v3h-3zM1461 631h1v4h-1zM1460 633h3v3h-3zM1465 619h1v18h-1zM1464 622h3v11h-3zM1468 618h1v7h-1zM1467 621h3v3h-3zM1471 622h1v35h-1zM1474 644h1v7h-1zM1477 649h1v22h-1zM1481 654h1v16h-1zM1480 660h3v8h-3zM1484 654h1v17h-1zM1487 665h1v24h-1zM1490 665h1v18h-1zM1489 666h3v10h-3zM1493 657h1v16h-1zM1492 659h3v8h-3zM1496 657h1v4h-1zM1500 657h1v11h-1zM1503 664h1v13h-1zM1506 671h1v8h-1zM1509 675h1v16h-1zM1512 679h1v21h-1zM1516 694h1v17h-1zM1519 669h1v43h-1zM1518 681h3v30h-3zM1522 662h1v19h-1zM1521 662h3v19h-3zM1525 649h1v25h-1zM1524 653h3v10h-3zM1528 644h1v26h-1zM1532 639h1v28h-1zM1531 649h3v9h-3zM1535 640h1v11h-1zM1534 642h3v8h-3zM1538 635h1v18h-1zM1541 646h1v17h-1zM1544 644h1v18h-1zM1543 646h3v14h-3zM1548 644h1v6h-1zM1551 649h1v5h-1zM1554 650h1v14h-1zM1557 649h1v16h-1zM1556 650h3v8h-3zM1560 649h1v11h-1zM1563 640h1v27h-1zM1562 646h3v14h-3zM1567 640h1v8h-1zM1566 642h3v6h-3zM1570 639h1v7h-1zM1569 641h3v3h-3zM1573 620h1v21h-1zM1572 627h3v13h-3zM1576 623h1v10h-1zM1575 625h3v3h-3zM1579 625h1v5h-1zM1583 622h1v22h-1zM1586 635h1v4h-1zM1585 635h3v4h-3zM1589 621h1v21h-1zM1588 621h3v13h-3zM1592 611h1v19h-1zM1591 613h3v11h-3zM1595 599h1v17h-1zM1594 605h3v9h-3zM1599 593h1v19h-1zM1598 595h3v10h-3zM1602 591h1v8h-1zM1605 598h1v9h-1zM1604 602h3v3h-3zM1608 601h1v2h-1zM1611 591h1v19h-1zM1610 596h3v7h-3zM1614 576h1v27h-1zM1613 580h3v15h-3zM1618 570h1v12h-1zM1617 571h3v9h-3zM1621 566h1v25h-1zM1624 566h1v21h-1zM1623 574h3v10h-3zM1627 570h1v8h-1zM1626 571h3v4h-3zM1630 559h1v18h-1zM1629 562h3v8h-3zM1634 561h1v8h-1zM1637 559h1v12h-1zM1640 554h1v16h-1zM1639 559h3v7h-3zM1643 551h1v8h-1zM1642 552h3v6h-3zM1646 549h1v13h-1zM1650 550h1v9h-1zM1649 550h3v8h-3zM1653 539h1v13h-1zM1652 544h3v7h-3zM1656 543h1v11h-1zM1659 543h1v14h-1zM1658 547h3v8h-3zM1662 535h1v19h-1zM1661 543h3v5h-3zM1665 533h1v12h-1zM1664 540h3v4h-3zM1669 542h1v13h-1zM1672 551h1v21h-1zM1675 550h1v9h-1zM1674 555h3v2h-3zM1678 552h1v13h-1zM1677 553h3v9h-3zM1681 549h1v10h-1zM1680 553h3v2h-3zM1685 552h1v30h-1zM1688 572h1v16h-1zM1691 561h1v23h-1zM1690 569h3v12h-3zM1694 559h1v14h-1zM1693 564h3v6h-3zM1697 547h1v17h-1zM1696 553h3v10h-3zM1701 549h1v23h-1zM1704 567h1v10h-1zM1703 568h3v3h-3zM1707 564h1v12h-1zM1710 571h1v12h-1zM1713 569h1v7h-1zM1712 572h3v3h-3zM1717 568h1v26h-1zM1720 571h1v19h-1zM1719 582h3v8h-3zM1723 578h1v30h-1zM1726 584h1v27h-1zM1725 593h3v9h-3zM1729 572h1v27h-1zM1728 572h3v23h-3zM1732 571h1v5h-1zM1736 556h1v27h-1zM1735 573h3v3h-3zM1739 577h1v73h-1zM1742 614h1v43h-1zM1745 630h1v49h-1zM1748 665h1v19h-1zM1752 663h1v42h-1zM1751 672h3v8h-3zM1755 658h1v16h-1zM1754 670h3v3h-3zM1758 640h1v36h-1zM1757 645h3v25h-3zM1761 625h1v21h-1zM1760 626h3v17h-3zM1764 623h1v6h-1zM1763 624h3v3h-3zM1768 621h1v20h-1zM1771 623h1v16h-1zM1770 628h3v10h-3zM1774 628h1v10h-1zM1777 630h1v11h-1zM1780 637h1v8h-1zM1783 625h1v24h-1zM1782 632h3v12h-3zM1787 635h1v8h-1zM1790 645h1v30h-1zM1793 634h1v28h-1zM1792 639h3v18h-3zM1796 627h1v12h-1zM1795 628h3v10h-3zM1799 609h1v22h-1zM1798 615h3v12h-3zM1803 615h1v9h-1zM1806 594h1v28h-1zM1805 601h3v19h-3zM1809 594h1v11h-1zM1808 598h3v4h-3zM1812 593h1v13h-1zM1811 596h3v3h-3zM1815 587h1v12h-1zM1814 595h3v3h-3zM1819 599h1v14h-1zM1822 599h1v11h-1zM1821 600h3v10h-3zM1825 585h1v18h-1zM1824 591h3v10h-3zM1828 579h1v16h-1zM1827 585h3v7h-3zM1831 567h1v26h-1zM1830 575h3v14h-3zM1834 574h1v3h-1zM1838 572h1v17h-1zM1841 552h1v31h-1zM1840 560h3v22h-3zM1844 549h1v15h-1zM1843 553h3v8h-3zM1847 548h1v7h-1zM1846 552h3v2h-3zM1850 540h1v22h-1zM1849 542h3v15h-3zM1854 533h1v11h-1zM1853 539h3v4h-3zM1857 528h1v17h-1zM1856 531h3v8h-3zM1860 514h1v19h-1zM1859 522h3v10h-3zM1863 522h1v11h-1zM1866 518h1v23h-1zM1865 528h3v9h-3zM1870 527h1v22h-1zM1873 525h1v20h-1zM1872 528h3v9h-3zM1876 507h1v28h-1zM1875 512h3v16h-3zM1879 511h1v12h-1zM1882 511h1v7h-1zM1881 512h3v3h-3zM1886 495h1v25h-1zM1885 503h3v10h-3zM1889 502h1v16h-1zM1892 511h1v10h-1zM1891 514h3v3h-3zM1895 497h1v22h-1zM1894 501h3v18h-3zM1898 483h1v25h-1zM1897 485h3v17h-3zM1901 477h1v13h-1zM1905 484h1v29h-1zM1908 497h1v16h-1zM1907 497h3v8h-3zM1911 497h1v8h-1zM1914 470h1v38h-1zM1913 476h3v26h-3zM1917 458h1v16h-1zM1916 460h3v10h-3zM1921 459h1v29h-1zM1924 466h1v23h-1zM1923 473h3v11h-3zM1927 485h1v17h-1zM1926 488h3v5h-3zM1930 483h1v26h-1zM1929 483h3v6h-3zM1933 464h1v17h-1zM1932 468h3v10h-3zM1937 456h1v19h-1zM1936 457h3v12h-3zM1940 449h1v13h-1zM1939 456h3v3h-3zM1943 436h1v16h-1zM1942 438h3v9h-3zM1946 384h1v65h-1zM1949 414h1v17h-1zM1952 370h1v75h-1zM1951 391h3v53h-3zM1956 321h1v61h-1zM1955 328h3v46h-3zM1959 272h1v76h-1zM1962 276h1v43h-1zM1961 286h3v32h-3zM1965 119h1v144h-1zM1964 245h3v6h-3zM1968 165h1v85h-1zM1967 207h3v30h-3zM1972 182h1v205h-1zM1975 330h1v34h-1zM1978 326h1v41h-1zM1977 331h3v20h-3zM1981 325h1v66h-1zM1984 371h1v73h-1zM1988 423h1v27h-1zM1991 361h1v90h-1zM1990 378h3v65h-3zM1994 351h1v44h-1zM1993 368h3v11h-3zM1997 305h1v80h-1zM1996 307h3v65h-3zM2000 279h1v31h-1zM2003 253h1v74h-1zM2002 258h3v56h-3zM2007 241h1v41h-1zM2010 251h1v34h-1zM2009 266h3v15h-3zM2013 258h1v76h-1zM2016 323h1v44h-1zM2019 322h1v18h-1zM2018 324h3v13h-3zM2023 321h1v51h-1zM2026 390h1v10h-1zM2029 369h1v46h-1zM2028 371h3v27h-3zM2032 352h1v43h-1zM2035 384h1v53h-1zM2039 416h1v20h-1zM2042 398h1v39h-1zM2041 409h3v23h-3zM2045 390h1v63h-1zM2048 385h1v69h-1zM2047 394h3v44h-3zM2051 360h1v46h-1zM2050 361h3v27h-3zM2055 328h1v43h-1zM2054 338h3v28h-3zM2058 314h1v23h-1zM2057 328h3v6h-3zM2061 312h1v71h-1zM2064 361h1v28h-1zM2063 366h3v11h-3zM2067 360h1v16h-1zM2070 355h1v23h-1zM2074 378h1v37h-1zM2077 383h1v43h-1zM2076 391h3v22h-3zM2080 381h1v19h-1zM2079 388h3v4h-3zM2083 367h1v25h-1zM2082 371h3v21h-3zM2086 357h1v16h-1zM2085 357h3v15h-3zM2090 362h1v24h-1zM2093 364h1v41h-1zM2096 349h1v46h-1zM2095 351h3v41h-3zM2099 334h1v18h-1zM2098 344h3v8h-3zM2102 333h1v15h-1zM2101 333h3v10h-3zM2106 326h1v63h-1zM2109 385h1v37h-1zM2112 363h1v59h-1zM2111 372h3v47h-3zM2115 361h1v19h-1zM2114 371h3v3h-3zM2118 338h1v45h-1zM2117 339h3v28h-3zM2121 315h1v25h-1zM2120 318h3v20h-3zM2125 316h1v30h-1zM2128 314h1v58h-1zM2131 331h1v37h-1zM2130 336h3v30h-3zM2134 331h1v14h-1zM2133 331h3v6h-3zM2137 318h1v18h-1zM2136 324h3v8h-3zM2141 316h1v14h-1zM2140 323h3v2h-3zM2144 308h1v23h-1zM2143 318h3v6h-3zM2147 277h1v43h-1zM2146 293h3v25h-3zM2150 268h1v24h-1zM2149 277h3v15h-3zM2153 251h1v31h-1zM2152 257h3v21h-3zM2157 228h1v33h-1zM2156 248h3v10h-3zM2160 279h1v25h-1zM2159 302h3v3h-3zM2163 281h1v50h-1zM2162 290h3v22h-3zM2166 273h1v18h-1zM2165 273h3v13h-3zM2169 249h1v28h-1zM2172 265h1v15h-1zM2171 267h3v6h-3zM2176 239h1v34h-1zM2175 243h3v24h-3zM2179 235h1v14h-1zM2182 246h1v12h-1zM2185 253h1v10h-1zM2184 254h3v2h-3zM2188 229h1v42h-1zM2192 257h1v17h-1zM2195 265h1v17h-1zM2194 273h3v3h-3zM2198 273h1v63h-1zM2201 314h1v15h-1zM2200 319h3v8h-3zM2204 314h1v8h-1zM2203 315h3v5h-3zM2208 316h1v27h-1zM2211 341h1v22h-1zM2210 350h3v5h-3zM2214 317h1v43h-1zM2213 327h3v24h-3zM2217 308h1v28h-1zM2216 310h3v19h-3zM2220 283h1v33h-1zM2219 287h3v19h-3zM2224 268h1v38h-1zM2227 299h1v25h-1zM2230 321h1v38h-1zM2229 339h3v17h-3zM2233 307h1v32h-1zM2232 322h3v17h-3zM2236 320h1v92h-1zM2239 380h1v63h-1zM2238 392h3v34h-3zM2243 382h1v51h-1zM2246 360h1v38h-1zM2245 375h3v19h-3zM2249 371h1v21h-1zM2248 374h3v3h-3zM2252 372h1v75h-1zM2255 426h1v34h-1zM2254 437h3v6h-3zM2259 429h1v45h-1zM2262 409h1v34h-1zM2261 422h3v11h-3zM2265 370h1v60h-1zM2264 381h3v44h-3zM2268 365h1v23h-1zM2267 373h3v9h-3zM2271 370h1v8h-1zM2275 372h1v30h-1zM2278 392h1v14h-1zM2281 389h1v12h-1zM2280 389h3v12h-3zM2284 379h1v19h-1zM2287 374h1v20h-1zM2286 375h3v19h-3zM2290 372h1v12h-1zM2289 373h3v3h-3zM2294 343h1v35h-1zM2293 351h3v18h-3zM2297 388h1v43h-1zM2300 418h1v20h-1zM2299 426h3v8h-3zM2303 419h1v52h-1zM2306 441h1v37h-1zM2310 460h1v35h-1zM2309 471h3v13h-3zM2313 445h1v38h-1zM2312 458h3v24h-3zM2316 456h1v6h-1zM2319 453h1v18h-1zM2318 453h3v8h-3zM2322 425h1v36h-1zM2321 434h3v20h-3zM2326 427h1v25h-1zM2329 446h1v25h-1zM2332 477h1v23h-1zM2335 479h1v17h-1zM2334 481h3v12h-3zM2338 454h1v29h-1zM2337 458h3v25h-3zM2341 455h1v7h-1zM2340 457h3v3h-3zM2345 456h1v37h-1zM2344 464h3v5h-3zM2348 434h1v32h-1zM2347 437h3v26h-3zM2351 416h1v28h-1zM2350 428h3v10h-3zM2354 411h1v36h-1zM2357 436h1v10h-1zM2361 400h1v53h-1zM2360 406h3v34h-3zM2364 403h1v57h-1zM2367 423h1v38h-1zM2370 454h1v38h-1zM2373 473h1v20h-1zM2372 487h3v4h-3zM2377 464h1v26h-1zM2376 464h3v23h-3zM2380 456h1v49h-1zM2383 488h1v46h-1zM2386 515h1v25h-1zM2385 522h3v5h-3zM2389 490h1v38h-1zM2388 492h3v30h-3zM2393 474h1v33h-1zM2392 479h3v15h-3zM2396 474h1v24h-1zM2399 476h1v11h-1zM2398 479h3v6h-3zM2402 466h1v44h-1zM2405 499h1v15h-1zM2404 499h3v8h-3zM2408 494h1v14h-1zM2407 494h3v6h-3zM2412 494h1v33h-1zM2415 507h1v18h-1zM2418 510h1v16h-1zM2417 514h3v8h-3zM2421 501h1v51h-1zM2424 533h1v35h-1zM2428 549h1v22h-1zM2427 551h3v17h-3zM2431 502h1v47h-1zM2430 516h3v26h-3zM2434 514h1v22h-1zM2437 520h1v13h-1zM2440 514h1v35h-1zM2439 520h3v20h-3zM2444 487h1v42h-1zM2443 497h3v25h-3zM2447 479h1v22h-1zM2446 483h3v14h-3zM2450 474h1v21h-1zM2449 475h3v7h-3zM2453 438h1v46h-1zM2452 447h3v27h-3zM2456 439h1v28h-1zM2459 452h1v33h-1zM2463 480h1v18h-1zM2466 463h1v31h-1zM2465 475h3v16h-3zM2469 487h1v26h-1zM2472 502h1v17h-1zM2475 505h1v19h-1zM2479 505h1v15h-1zM2478 506h3v12h-3zM2482 503h1v6h-1zM2485 498h1v11h-1zM2484 501h3v6h-3zM2488 493h1v15h-1zM2491 497h1v13h-1zM2490 498h3v4h-3zM2495 465h1v27h-1zM2494 466h3v23h-3zM2498 446h1v27h-1zM2497 456h3v9h-3zM2501 451h1v18h-1zM2504 458h1v22h-1zM2507 473h1v20h-1zM2506 474h3v17h-3zM2510 457h1v17h-1zM2509 461h3v13h-3zM2514 463h1v21h-1zM2517 433h1v49h-1zM2516 443h3v33h-3zM2520 434h1v28h-1zM2519 447h3v6h-3zM2523 440h1v30h-1zM2526 460h1v36h-1zM2530 472h1v34h-1zM2529 482h3v11h-3zM2533 457h1v31h-1zM2532 463h3v18h-3zM2536 453h1v38h-1zM2539 477h1v24h-1zM2538 479h3v12h-3zM2542 465h1v33h-1zM2546 480h1v44h-1zM2549 502h1v36h-1zM2552 524h1v47h-1zM2555 521h1v16h-1zM2554 524h3v6h-3zM2558 522h1v30h-1zM2562 541h1v15h-1zM2565 541h1v23h-1zM2568 558h1v27h-1zM2571 563h1v13h-1zM2570 566h3v6h-3zM2574 544h1v24h-1zM2573 547h3v14h-3zM2577 515h1v33h-1zM2576 536h3v3h-3zM2581 535h1v20h-1zM2584 534h1v40h-1zM2587 559h1v48h-1zM2590 589h1v28h-1zM2593 606h1v23h-1zM2597 601h1v24h-1zM2600 603h1v15h-1zM2599 604h3v8h-3zM2603 578h1v33h-1zM2602 584h3v19h-3zM2606 564h1v30h-1zM2605 568h3v19h-3zM2609 558h1v27h-1zM2613 574h1v33h-1zM2616 589h1v13h-1zM2615 590h3v5h-3zM2619 583h1v16h-1zM2618 586h3v5h-3zM2622 569h1v29h-1zM2621 570h3v18h-3zM2625 565h1v14h-1zM2628 552h1v24h-1zM2627 554h3v19h-3zM2632 550h1v8h-1zM2635 549h1v24h-1zM2638 563h1v13h-1zM2641 542h1v30h-1zM2640 544h3v18h-3zM2644 529h1v52h-1zM2648 570h1v48h-1zM2651 597h1v12h-1zM2650 601h3v6h-3zM2654 600h1v13h-1zM2653 601h3v3h-3zM2657 585h1v26h-1zM2656 594h3v10h-3zM2660 586h1v14h-1zM2659 590h3v5h-3zM2664 568h1v36h-1zM2663 570h3v25h-3zM2667 556h1v18h-1zM2666 559h3v9h-3zM2670 540h1v28h-1zM2669 549h3v10h-3zM2673 543h1v15h-1zM2676 539h1v18h-1zM2675 544h3v13h-3zM2679 532h1v22h-1zM2678 540h3v11h-3zM2683 533h1v26h-1zM2682 542h3v15h-3zM2686 526h1v16h-1zM2685 529h3v12h-3zM2689 523h1v8h-1zM2688 526h3v4h-3zM2692 526h1v22h-1zM2695 539h1v5h-1zM2694 541h3v3h-3zM2699 528h1v15h-1zM2698 530h3v9h-3zM2702 526h1v17h-1zM2705 530h1v25h-1zM2708 539h1v25h-1zM2711 547h1v30h-1zM2715 552h1v32h-1zM2718 572h1v29h-1zM2721 575h1v19h-1zM2720 582h3v12h-3zM2724 561h1v31h-1zM2723 561h3v20h-3zM2727 543h1v17h-1zM2726 550h3v8h-3zM2731 550h1v7h-1zM2734 538h1v26h-1zM2733 539h3v19h-3zM2737 536h1v5h-1zM2736 538h3v3h-3zM2740 537h1v15h-1zM2743 545h1v10h-1zM2746 544h1v11h-1zM2750 548h1v26h-1zM2753 550h1v24h-1zM2752 557h3v9h-3zM2756 558h1v16h-1zM2759 565h1v29h-1zM2762 571h1v26h-1zM2761 574h3v14h-3zM2766 563h1v11h-1zM2765 568h3v4h-3zM2769 563h1v10h-1zM2768 565h3v7h-3zM2772 555h1v18h-1zM2771 559h3v14h-3zM2775 553h1v15h-1zM2774 557h3v11h-3zM2778 549h1v13h-1zM2777 553h3v5h-3zM2782 539h1v23h-1zM2781 543h3v11h-3zM2785 541h1v11h-1zM2784 541h3v3h-3zM2788 537h1v33h-1zM2791 560h1v19h-1zM2794 567h1v15h-1zM2797 554h1v26h-1zM2796 568h3v11h-3zM2801 562h1v31h-1zM2804 586h1v33h-1zM2807 603h1v57h-1zM2810 623h1v35h-1zM2809 636h3v4h-3zM2813 632h1v30h-1zM2817 637h1v33h-1zM2816 642h3v6h-3zM2820 628h1v22h-1zM2819 631h3v12h-3zM2823 619h1v20h-1zM2822 619h3v13h-3zM2826 617h1v9h-1zM2829 619h1v29h-1zM2833 603h1v32h-1zM2832 605h3v26h-3zM2836 598h1v14h-1zM2835 602h3v4h-3zM2839 597h1v11h-1zM2842 595h1v14h-1zM2841 598h3v7h-3zM2845 588h1v11h-1zM2844 593h3v5h-3zM2848 538h1v25h-1zM2852 550h1v5h-1zM2855 549h1v6h-1zM2854 550h3v3h-3zM2858 543h1v13h-1zM2861 544h1v16h-1zM2864 544h1v15h-1zM2863 545h3v13h-3zM2868 527h1v24h-1zM2867 532h3v14h-3zM2871 527h1v15h-1zM2874 534h1v16h-1zM2873 540h3v2h-3zM2877 535h1v19h-1zM2880 551h1v3h-1zM2879 553h3v3h-3zM2884 550h1v25h-1zM2887 562h1v27h-1zM2890 569h1v27h-1zM2889 578h3v8h-3zM2893 562h1v23h-1zM2892 568h3v11h-3zM2896 563h1v29h-1zM2900 578h1v38h-1zM2903 602h1v16h-1zM2902 604h3v6h-3zM2906 589h1v27h-1zM2905 595h3v10h-3zM2909 589h1v9h-1zM2912 596h1v43h-1zM2915 613h1v49h-1zM2919 646h1v26h-1zM2918 650h3v10h-3zM2922 617h1v40h-1zM2921 628h3v22h-3zM2925 613h1v19h-1zM2924 615h3v15h-3zM2928 607h1v12h-1zM2927 610h3v6h-3zM2931 607h1v18h-1zM2935 610h1v22h-1zM2938 623h1v15h-1zM2941 628h1v18h-1zM2940 629h3v10h-3zM2944 621h1v19h-1zM2947 611h1v23h-1zM2946 614h3v20h-3zM2951 615h1v13h-1zM2954 616h1v16h-1zM2957 620h1v8h-1zM2956 623h3v3h-3zM2960 615h1v12h-1zM2959 615h3v8h-3zM2963 603h1v7h-1zM2962 604h3v6h-3zM2966 604h1v17h-1zM2970 608h1v16h-1zM2969 615h3v8h-3zM2973 602h1v14h-1zM2972 613h3v3h-3zM2976 604h1v39h-1zM2979 641h1v16h-1zM2982 635h1v26h-1zM2981 636h3v18h-3zM2986 620h1v18h-1zM2985 622h3v15h-3zM2989 600h1v23h-1zM2992 610h1v17h-1zM2995 608h1v13h-1zM2994 615h3v6h-3zM2998 610h1v20h-1zM3002 623h1v18h-1zM3005 629h1v38h-1zM3008 629h1v26h-1zM3007 636h3v18h-3zM3011 638h1v13h-1zM3014 616h1v29h-1zM3013 625h3v19h-3zM3017 615h1v17h-1zM3016 617h3v9h-3zM3021 616h1v14h-1zM3024 617h1v6h-1zM3027 611h1v18h-1zM3026 614h3v11h-3zM3030 611h1v33h-1zM3033 637h1v17h-1zM3037 628h1v14h-1zM3036 636h3v4h-3zM3040 632h1v26h-1zM3043 636h1v18h-1zM3042 638h3v13h-3zM3046 631h1v19h-1zM3045 637h3v5h-3zM3049 626h1v15h-1zM3048 632h3v5h-3zM3053 629h1v5h-1zM3056 614h1v22h-1zM3055 621h3v11h-3zM3059 613h1v11h-1zM3058 619h3v3h-3zM3062 613h1v15h-1zM3061 618h3v2h-3zM3065 596h1v28h-1zM3064 603h3v17h-3zM3069 600h1v12h-1zM3072 587h1v25h-1zM3071 596h3v13h-3zM3075 583h1v19h-1zM3074 590h3v7h-3zM3078 570h1v28h-1zM3077 578h3v12h-3zM3081 575h1v18h-1zM3084 594h1v12h-1zM3088 588h1v22h-1zM3087 593h3v10h-3zM3091 584h1v12h-1zM3094 587h1v17h-1zM3093 594h3v4h-3zM3097 575h1v23h-1zM3096 582h3v12h-3zM3100 567h1v23h-1zM3099 569h3v14h-3zM3104 556h1v18h-1zM3103 562h3v7h-3zM3107 556h1v14h-1zM3110 557h1v15h-1zM3109 557h3v11h-3zM3113 543h1v20h-1zM3112 550h3v12h-3zM3116 540h1v20h-1zM3115 546h3v5h-3zM3120 547h1v11h-1zM3123 537h1v32h-1zM3126 548h1v18h-1zM3125 549h3v15h-3zM3129 534h1v24h-1zM3128 541h3v9h-3zM3132 537h1v11h-1zM3135 536h1v16h-1zM3134 542h3v4h-3zM3139 529h1v18h-1zM3138 530h3v13h-3zM3142 525h1v21h-1zM3145 535h1v8h-1zM3144 538h3v3h-3zM3148 534h1v9h-1zM3151 540h1v14h-1zM3155 543h1v23h-1zM3158 554h1v14h-1zM3161 549h1v16h-1zM3160 553h3v11h-3zM3164 553h1v10h-1zM3167 552h1v8h-1zM3171 555h1v16h-1zM3174 563h1v8h-1zM3173 564h3v3h-3zM3177 553h1v16h-1zM3176 555h3v11h-3zM3180 552h1v5h-1zM3183 540h1v24h-1zM3182 548h3v9h-3zM3186 541h1v12h-1zM3185 544h3v5h-3zM3190 534h1v16h-1zM3189 535h3v9h-3zM3193 520h1v25h-1zM3192 523h3v14h-3zM3196 513h1v17h-1zM3195 519h3v5h-3zM3199 502h1v20h-1zM3198 511h3v9h-3zM3202 506h1v7h-1zM3201 506h3v6h-3zM3206 503h1v10h-1zM3209 505h1v12h-1zM3208 505h3v8h-3zM3212 497h1v13h-1zM3215 488h1v25h-1zM3214 495h3v11h-3zM3218 494h1v6h-1zM3217 495h3v3h-3zM3222 479h1v17h-1zM3221 481h3v15h-3zM3225 472h1v10h-1zM3228 471h1v13h-1zM3227 475h3v5h-3zM3231 463h1v21h-1zM3234 471h1v14h-1zM3237 480h1v7h-1zM3241 477h1v17h-1zM3240 484h3v3h-3zM3244 479h1v7h-1zM3247 479h1v17h-1zM3246 480h3v6h-3zM3250 456h1v30h-1zM3249 458h3v20h-3zM3253 449h1v27h-1zM3257 458h1v14h-1zM3256 468h3v4h-3zM3260 485h1v31h-1zM3263 496h1v18h-1zM3262 503h3v5h-3zM3266 491h1v55h-1zM3269 543h1v24h-1zM3273 542h1v21h-1zM3276 518h1v26h-1zM3275 526h3v15h-3zM3279 519h1v20h-1zM3282 528h1v20h-1zM3285 540h1v8h-1zM3284 542h3v5h-3zM3289 500h1v42h-1zM3288 504h3v37h-3zM3292 501h1v14h-1zM3295 505h1v9h-1zM3294 511h3v3h-3zM3298 491h1v12h-1zM3297 499h3v3h-3zM3301 493h1v14h-1zM3300 493h3v7h-3zM3304 484h1v16h-1z"/>
<path fill="#641813" d="M3 751h3v5h-3zM6 755h3v5h-3zM22 734h3v4h-3zM26 736h3v2h-3zM29 737h3v9h-3zM32 745h3v4h-3zM45 727h3v9h-3zM54 730h3v3h-3zM57 733h3v2h-3zM64 730h3v3h-3zM70 723h3v9h-3zM73 731h3v13h-3zM83 721h3v3h-3zM92 717h3v2h-3zM99 719h3v12h-3zM105 741h3v4h-3zM118 715h3v3h-3zM124 717h3v5h-3zM147 697h3v4h-3zM166 696h3v8h-3zM169 698h3v3h-3zM175 675h3v5h-3zM179 681h3v4h-3zM182 661h3v47h-3zM185 702h3v6h-3zM188 707h3v4h-3zM191 708h3v10h-3zM198 715h3v4h-3zM207 702h3v8h-3zM210 707h3v8h-3zM214 714h3v12h-3zM217 729h3v5h-3zM220 734h3v12h-3zM223 748h3v9h-3zM230 751h3v3h-3zM233 753h3v11h-3zM236 756h3v10h-3zM239 780h3v16h-3zM242 795h3v4h-3zM249 785h3v6h-3zM252 789h3v6h-3zM255 796h3v8h-3zM284 758h3v5h-3zM287 766h3v14h-3zM290 778h3v14h-3zM293 788h3v16h-3zM297 804h3v10h-3zM300 818h3v9h-3zM306 801h3v14h-3zM309 812h3v9h-3zM313 816h3v15h-3zM316 828h3v40h-3zM319 922h3v33h-3zM325 931h3v12h-3zM328 942h3v22h-3zM335 942h3v47h-3zM338 988h3v12h-3zM341 999h3v32h-3zM348 1004h3v10h-3zM351 1013h3v3h-3zM360 1008h3v11h-3zM364 1018h3v12h-3zM367 1029h3v18h-3zM373 1020h3v11h-3zM383 964h3v10h-3zM386 960h3v14h-3zM392 958h3v19h-3zM395 957h3v19h-3zM399 975h3v18h-3zM402 992h3v16h-3zM408 1000h3v5h-3zM411 1004h3v21h-3zM415 1024h3v50h-3zM427 1057h3v12h-3zM440 1014h3v4h-3zM450 970h3v22h-3zM453 991h3v3h-3zM459 981h3v11h-3zM466 989h3v7h-3zM478 944h3v8h-3zM488 941h3v8h-3zM497 940h3v12h-3zM504 946h3v2h-3zM523 890h3v13h-3zM533 901h3v20h-3zM545 902h3v3h-3zM558 884h3v5h-3zM561 888h3v19h-3zM568 900h3v3h-3zM574 895h3v5h-3zM584 884h3v4h-3zM593 884h3v2h-3zM596 885h3v6h-3zM603 883h3v5h-3zM612 880h3v3h-3zM615 882h3v2h-3zM619 883h3v3h-3zM625 874h3v3h-3zM628 876h3v8h-3zM631 883h3v2h-3zM644 880h3v6h-3zM663 868h3v7h-3zM670 870h3v4h-3zM676 866h3v3h-3zM679 868h3v3h-3zM689 866h3v3h-3zM692 868h3v3h-3zM695 870h3v5h-3zM708 862h3v7h-3zM711 868h3v2h-3zM721 862h3v13h-3zM724 874h3v3h-3zM727 876h3v14h-3zM730 889h3v5h-3zM733 893h3v18h-3zM740 903h3v5h-3zM743 907h3v4h-3zM746 910h3v3h-3zM759 882h3v3h-3zM762 884h3v14h-3zM768 895h3v3h-3zM781 890h3v12h-3zM784 901h3v3h-3zM791 904h3v12h-3zM800 888h3v7h-3zM807 882h3v5h-3zM810 886h3v10h-3zM820 882h3v3h-3zM823 884h3v3h-3zM826 885h3v4h-3zM832 885h3v12h-3zM839 890h3v6h-3zM842 895h3v11h-3zM848 899h3v18h-3zM851 916h3v12h-3zM855 927h3v4h-3zM867 900h3v2h-3zM871 904h3v10h-3zM883 879h3v3h-3zM886 883h3v5h-3zM899 875h3v3h-3zM915 840h3v8h-3zM922 845h3v4h-3zM925 848h3v3h-3zM937 836h3v4h-3zM941 839h3v3h-3zM953 826h3v4h-3zM969 811h3v13h-3zM973 824h3v5h-3zM982 819h3v4h-3zM995 816h3v6h-3zM1004 795h3v3h-3zM1011 780h3v5h-3zM1020 776h3v6h-3zM1024 778h3v11h-3zM1027 788h3v4h-3zM1036 781h3v2h-3zM1040 782h3v6h-3zM1049 782h3v3h-3zM1052 783h3v3h-3zM1084 739h3v3h-3zM1100 709h3v11h-3zM1103 724h3v3h-3zM1116 693h3v3h-3zM1119 694h3v7h-3zM1122 712h3v9h-3zM1126 724h3v6h-3zM1138 671h3v14h-3zM1142 685h3v5h-3zM1151 674h3v3h-3zM1154 676h3v3h-3zM1157 678h3v5h-3zM1161 682h3v5h-3zM1164 688h3v36h-3zM1173 715h3v30h-3zM1180 718h3v17h-3zM1189 709h3v8h-3zM1193 716h3v6h-3zM1199 714h3v19h-3zM1209 725h3v2h-3zM1212 725h3v3h-3zM1234 693h3v6h-3zM1237 700h3v8h-3zM1240 707h3v3h-3zM1247 702h3v3h-3zM1260 683h3v10h-3zM1269 675h3v4h-3zM1272 678h3v7h-3zM1275 684h3v3h-3zM1282 682h3v3h-3zM1288 679h3v16h-3zM1298 674h3v7h-3zM1301 682h3v15h-3zM1304 696h3v14h-3zM1314 682h3v2h-3zM1342 656h3v2h-3zM1368 639h3v7h-3zM1378 631h3v2h-3zM1390 622h3v11h-3zM1393 632h3v3h-3zM1409 614h3v21h-3zM1413 633h3v10h-3zM1422 624h3v5h-3zM1429 620h3v13h-3zM1432 634h3v8h-3zM1435 641h3v3h-3zM1438 647h3v35h-3zM1470 628h3v20h-3zM1473 646h3v5h-3zM1476 651h3v17h-3zM1483 660h3v5h-3zM1486 669h3v8h-3zM1495 659h3v3h-3zM1499 661h3v5h-3zM1502 670h3v4h-3zM1505 672h3v6h-3zM1508 679h3v6h-3zM1511 690h3v9h-3zM1515 697h3v12h-3zM1527 654h3v8h-3zM1537 642h3v5h-3zM1540 646h3v12h-3zM1547 646h3v4h-3zM1550 649h3v3h-3zM1553 652h3v5h-3zM1559 650h3v8h-3zM1578 625h3v3h-3zM1582 628h3v11h-3zM1601 595h3v3h-3zM1607 602h3v2h-3zM1620 570h3v12h-3zM1633 562h3v2h-3zM1636 563h3v3h-3zM1645 551h3v5h-3zM1655 543h3v11h-3zM1668 542h3v12h-3zM1671 553h3v3h-3zM1684 558h3v17h-3zM1687 578h3v9h-3zM1700 551h3v19h-3zM1706 568h3v6h-3zM1709 573h3v2h-3zM1716 574h3v15h-3zM1722 583h3v17h-3zM1731 572h3v2h-3zM1738 578h3v71h-3zM1741 640h3v3h-3zM1744 635h3v31h-3zM1747 671h3v9h-3zM1767 622h3v13h-3zM1773 628h3v8h-3zM1776 635h3v5h-3zM1779 639h3v5h-3zM1786 635h3v8h-3zM1789 648h3v10h-3zM1802 617h3v5h-3zM1818 600h3v9h-3zM1833 575h3v3h-3zM1837 577h3v7h-3zM1862 522h3v3h-3zM1869 528h3v13h-3zM1878 512h3v3h-3zM1888 503h3v13h-3zM1900 485h3v5h-3zM1904 490h3v15h-3zM1910 497h3v3h-3zM1920 464h3v20h-3zM1945 425h3v22h-3zM1948 415h3v10h-3zM1958 309h3v39h-3zM1971 189h3v154h-3zM1974 331h3v25h-3zM1980 327h3v49h-3zM1983 389h3v43h-3zM1987 437h3v10h-3zM1999 295h3v15h-3zM2006 259h3v21h-3zM2012 272h3v60h-3zM2015 331h3v20h-3zM2022 328h3v39h-3zM2025 390h3v8h-3zM2031 363h3v16h-3zM2034 386h3v37h-3zM2038 417h3v11h-3zM2044 406h3v38h-3zM2060 328h3v46h-3zM2066 366h3v8h-3zM2069 366h3v12h-3zM2073 388h3v25h-3zM2089 371h3v10h-3zM2092 371h3v21h-3zM2105 328h3v56h-3zM2108 388h3v25h-3zM2124 317h3v20h-3zM2127 328h3v31h-3zM2168 260h3v16h-3zM2178 242h3v6h-3zM2181 248h3v8h-3zM2187 257h3v6h-3zM2191 265h3v9h-3zM2197 278h3v49h-3zM2207 316h3v23h-3zM2223 287h3v13h-3zM2226 302h3v11h-3zM2235 324h3v85h-3zM2242 394h3v35h-3zM2251 381h3v56h-3zM2258 436h3v3h-3zM2270 373h3v3h-3zM2274 379h3v22h-3zM2277 400h3v5h-3zM2283 389h3v6h-3zM2296 399h3v32h-3zM2302 433h3v24h-3zM2305 454h3v24h-3zM2315 458h3v3h-3zM2325 436h3v10h-3zM2328 449h3v21h-3zM2331 478h3v13h-3zM2353 424h3v14h-3zM2356 437h3v3h-3zM2363 408h3v41h-3zM2366 432h3v26h-3zM2369 469h3v22h-3zM2379 468h3v20h-3zM2382 488h3v39h-3zM2395 477h3v8h-3zM2401 474h3v32h-3zM2411 503h3v13h-3zM2414 514h3v8h-3zM2420 514h3v37h-3zM2423 546h3v22h-3zM2433 518h3v5h-3zM2436 522h3v5h-3zM2455 440h3v22h-3zM2458 463h3v14h-3zM2462 481h3v11h-3zM2468 488h3v22h-3zM2471 509h3v2h-3zM2474 506h3v17h-3zM2481 506h3v3h-3zM2487 501h3v2h-3zM2500 459h3v6h-3zM2503 460h3v13h-3zM2513 468h3v6h-3zM2522 445h3v24h-3zM2525 469h3v22h-3zM2535 464h3v22h-3zM2541 477h3v11h-3zM2545 488h3v25h-3zM2548 510h3v20h-3zM2551 529h3v3h-3zM2557 522h3v27h-3zM2561 548h3v3h-3zM2564 546h3v16h-3zM2567 561h3v4h-3zM2580 537h3v10h-3zM2583 545h3v25h-3zM2586 564h3v30h-3zM2589 589h3v21h-3zM2592 608h3v10h-3zM2596 614h3v4h-3zM2608 567h3v13h-3zM2612 578h3v17h-3zM2624 568h3v10h-3zM2631 550h3v4h-3zM2634 554h3v11h-3zM2637 568h3v5h-3zM2643 542h3v33h-3zM2647 572h3v36h-3zM2672 548h3v7h-3zM2691 526h3v16h-3zM2701 530h3v7h-3zM2704 536h3v16h-3zM2707 550h3v5h-3zM2710 547h3v21h-3zM2714 564h3v10h-3zM2717 573h3v18h-3zM2730 551h3v5h-3zM2739 544h3v3h-3zM2742 545h3v4h-3zM2745 548h3v3h-3zM2749 553h3v14h-3zM2755 559h3v9h-3zM2758 570h3v17h-3zM2787 540h3v26h-3zM2790 567h3v3h-3zM2793 571h3v7h-3zM2800 569h3v16h-3zM2803 586h3v25h-3zM2806 611h3v34h-3zM2812 636h3v13h-3zM2825 623h3v3h-3zM2828 626h3v5h-3zM2838 599h3v6h-3zM2847 542h3v10h-3zM2851 551h3v2h-3zM2857 550h3v2h-3zM2860 549h3v9h-3zM2870 533h3v9h-3zM2876 539h3v15h-3zM2883 551h3v15h-3zM2886 568h3v15h-3zM2895 569h3v16h-3zM2899 584h3v26h-3zM2908 589h3v7h-3zM2911 596h3v33h-3zM2914 627h3v26h-3zM2930 611h3v8h-3zM2934 618h3v13h-3zM2937 628h3v9h-3zM2943 626h3v5h-3zM2950 617h3v7h-3zM2953 623h3v2h-3zM2965 604h3v17h-3zM2975 615h3v28h-3zM2978 642h3v7h-3zM2988 609h3v8h-3zM2991 616h3v4h-3zM2997 615h3v8h-3zM3001 626h3v6h-3zM3004 631h3v25h-3zM3010 638h3v6h-3zM3020 617h3v5h-3zM3023 621h3v3h-3zM3029 614h3v25h-3zM3032 638h3v2h-3zM3039 637h3v16h-3zM3052 630h3v4h-3zM3068 602h3v7h-3zM3080 577h3v16h-3zM3083 596h3v7h-3zM3090 592h3v3h-3zM3106 565h3v3h-3zM3119 549h3v3h-3zM3122 543h3v23h-3zM3131 541h3v7h-3zM3141 531h3v9h-3zM3147 538h3v4h-3zM3150 541h3v12h-3zM3154 548h3v16h-3zM3157 558h3v8h-3zM3163 553h3v3h-3zM3166 554h3v5h-3zM3170 558h3v8h-3zM3179 552h3v5h-3zM3205 504h3v8h-3zM3211 504h3v3h-3zM3224 479h3v2h-3zM3230 473h3v5h-3zM3233 475h3v9h-3zM3236 483h3v4h-3zM3243 481h3v5h-3zM3252 457h3v11h-3zM3259 493h3v13h-3zM3265 503h3v42h-3zM3268 544h3v14h-3zM3272 554h3v2h-3zM3278 526h3v4h-3zM3281 529h3v16h-3zM3291 503h3v11h-3zM3303 485h3v9h-3z"/>
<path fill="#0dbe6c" d="M1 751h1v7h-1zM11 753h1v5h-1zM14 741h1v12h-1zM17 738h1v3h-1zM20 735h1v2h-1zM36 737h1v17h-1zM39 734h1v1h-1zM42 727h1v7h-1zM49 732h1v4h-1zM52 730h1v1h-1zM62 732h1v3h-1zM68 724h1v7h-1zM78 731h1v12h-1zM81 719h1v13h-1zM90 718h1v3h-1zM97 719h1v1h-1zM103 743h1v1h-1zM109 726h1v15h-1zM113 724h1v2h-1zM116 715h1v8h-1zM122 716h1v2h-1zM129 717h1v2h-1zM132 709h1v5h-1zM138 702h1v6h-1zM141 701h1v3h-1zM145 698h1v2h-1zM151 700h1v1h-1zM154 693h1v6h-1zM157 687h1v5h-1zM160 685h1v2h-1zM164 683h1v1h-1zM173 682h1v18h-1zM196 716h1v1h-1zM205 712h1v1h-1zM227 755h1v2h-1zM247 788h1v9h-1zM259 798h1v2h-1zM262 784h1v11h-1zM266 780h1v4h-1zM269 772h1v7h-1zM272 770h1v1h-1zM275 769h1v1h-1zM278 758h1v10h-1zM304 815h1v23h-1zM323 932h1v10h-1zM333 959h1v4h-1zM345 1003h1v27h-1zM355 1010h1v4h-1zM358 1009h1v1h-1zM371 1046h1v1h-1zM377 991h1v39h-1zM380 958h1v32h-1zM390 968h1v5h-1zM406 1006h1v1h-1zM419 1066h1v1h-1zM422 1061h1v4h-1zM425 1058h1v2h-1zM431 1065h1v3h-1zM435 1050h1v14h-1zM438 1027h1v22h-1zM444 1013h1v4h-1zM447 982h1v30h-1zM457 982h1v11h-1zM463 990h1v1h-1zM470 980h1v15h-1zM473 971h1v8h-1zM476 952h1v18h-1zM483 944h1v7h-1zM486 942h1v1h-1zM492 946h1v2h-1zM495 941h1v4h-1zM502 947h1v10h-1zM508 923h1v5h-1zM511 913h1v9h-1zM514 912h1v1h-1zM518 910h1v1h-1zM521 891h1v18h-1zM527 901h1v1h-1zM530 896h1v4h-1zM537 920h1v6h-1zM540 912h1v7h-1zM543 903h1v8h-1zM549 898h1v5h-1zM553 892h1v5h-1zM556 885h1v6h-1zM565 901h1v5h-1zM572 896h1v5h-1zM578 895h1v4h-1zM581 885h1v9h-1zM588 887h1v1h-1zM591 885h1v1h-1zM600 884h1v6h-1zM607 887h1v1h-1zM610 881h1v5h-1zM623 875h1v9h-1zM636 883h1v1h-1zM639 883h1v1h-1zM642 882h1v1h-1zM648 883h1v2h-1zM652 877h1v5h-1zM655 876h1v1h-1zM658 870h1v5h-1zM661 869h1v1h-1zM667 871h1v3h-1zM674 867h1v6h-1zM683 868h1v2h-1zM699 870h1v4h-1zM703 864h1v5h-1zM715 865h1v4h-1zM718 865h1v1h-1zM738 904h1v6h-1zM750 906h1v6h-1zM754 892h1v13h-1zM757 883h1v8h-1zM766 896h1v1h-1zM779 891h1v3h-1zM789 892h1v10h-1zM795 900h1v15h-1zM798 889h1v10h-1zM805 883h1v11h-1zM814 890h1v5h-1zM817 883h1v6h-1zM830 886h1v2h-1zM836 891h1v5h-1zM846 900h1v5h-1zM859 919h1v11h-1zM862 913h1v5h-1zM865 901h1v11h-1zM875 892h1v21h-1zM878 882h1v9h-1zM881 880h1v1h-1zM891 880h1v7h-1zM894 880h1v1h-1zM897 876h1v3h-1zM903 870h1v6h-1zM907 862h1v7h-1zM910 848h1v13h-1zM913 841h1v6h-1zM919 846h1v1h-1zM929 844h1v6h-1zM932 840h1v3h-1zM935 837h1v2h-1zM945 839h1v1h-1zM948 829h1v9h-1zM951 827h1v1h-1zM958 825h1v4h-1zM961 822h1v2h-1zM964 819h1v2h-1zM967 812h1v6h-1zM977 820h1v8h-1zM986 821h1v1h-1zM990 820h1v1h-1zM993 817h1v2h-1zM999 802h1v19h-1zM1002 796h1v5h-1zM1009 781h1v14h-1zM1015 781h1v3h-1zM1018 777h1v3h-1zM1031 783h1v8h-1zM1034 782h1v1h-1zM1044 784h1v3h-1zM1060 779h1v11h-1zM1063 772h1v6h-1zM1066 764h1v7h-1zM1069 761h1v2h-1zM1072 756h1v4h-1zM1076 746h1v9h-1zM1079 743h1v2h-1zM1082 740h1v2h-1zM1088 732h1v11h-1zM1092 725h1v6h-1zM1095 724h1v1h-1zM1098 717h1v6h-1zM1107 710h1v18h-1zM1111 708h1v1h-1zM1114 694h1v15h-1zM1130 719h1v11h-1zM1133 697h1v21h-1zM1136 676h1v17h-1zM1146 688h1v1h-1zM1149 675h1v7h-1zM1168 715h1v10h-1zM1178 715h1v30h-1zM1184 715h1v18h-1zM1187 711h1v3h-1zM1197 713h1v11h-1zM1203 728h1v4h-1zM1206 726h1v1h-1zM1216 725h1v1h-1zM1219 722h1v2h-1zM1222 698h1v19h-1zM1225 696h1v1h-1zM1229 696h1v1h-1zM1245 703h1v5h-1zM1251 700h1v4h-1zM1254 692h1v7h-1zM1257 683h1v9h-1zM1264 691h1v5h-1zM1267 681h1v8h-1zM1280 683h1v1h-1zM1286 677h1v5h-1zM1292 681h1v13h-1zM1296 676h1v4h-1zM1308 700h1v9h-1zM1312 683h1v13h-1zM1318 681h1v1h-1zM1321 676h1v4h-1zM1324 674h1v1h-1zM1327 677h1v2h-1zM1331 670h1v4h-1zM1334 660h1v5h-1zM1337 660h1v1h-1zM1340 657h1v2h-1zM1347 653h1v5h-1zM1353 652h1v1h-1zM1356 650h1v1h-1zM1359 649h1v1h-1zM1363 640h1v5h-1zM1366 636h1v3h-1zM1372 644h1v1h-1zM1375 632h1v11h-1zM1382 631h1v1h-1zM1385 627h1v3h-1zM1388 623h1v3h-1zM1398 630h1v3h-1zM1401 625h1v4h-1zM1404 622h1v2h-1zM1407 615h1v6h-1zM1417 640h1v10h-1zM1420 627h1v8h-1zM1426 620h1v8h-1zM1442 678h1v3h-1zM1445 654h1v25h-1zM1449 641h1v12h-1zM1452 640h1v1h-1zM1455 636h1v3h-1zM1458 635h1v1h-1zM1461 634h1v1h-1zM1465 623h1v9h-1zM1468 622h1v1h-1zM1481 661h1v6h-1zM1490 667h1v8h-1zM1493 660h1v6h-1zM1519 682h1v28h-1zM1522 663h1v17h-1zM1525 654h1v8h-1zM1532 650h1v7h-1zM1535 643h1v6h-1zM1544 647h1v12h-1zM1557 651h1v6h-1zM1563 647h1v12h-1zM1567 643h1v4h-1zM1570 642h1v1h-1zM1573 628h1v11h-1zM1576 626h1v1h-1zM1586 636h1v2h-1zM1589 622h1v11h-1zM1592 614h1v9h-1zM1595 606h1v7h-1zM1599 596h1v8h-1zM1605 603h1v1h-1zM1611 597h1v5h-1zM1614 581h1v13h-1zM1618 572h1v7h-1zM1624 575h1v8h-1zM1627 572h1v2h-1zM1630 563h1v6h-1zM1640 560h1v5h-1zM1643 553h1v4h-1zM1650 551h1v6h-1zM1653 545h1v5h-1zM1659 548h1v6h-1zM1662 544h1v3h-1zM1665 541h1v2h-1zM1678 554h1v7h-1zM1691 570h1v10h-1zM1694 565h1v4h-1zM1697 554h1v8h-1zM1704 569h1v1h-1zM1713 573h1v1h-1zM1720 583h1v6h-1zM1726 594h1v7h-1zM1729 573h1v21h-1zM1736 574h1v1h-1zM1752 673h1v6h-1zM1755 671h1v1h-1zM1758 646h1v23h-1zM1761 627h1v15h-1zM1764 625h1v1h-1zM1771 629h1v8h-1zM1783 633h1v10h-1zM1793 640h1v16h-1zM1796 629h1v8h-1zM1799 616h1v10h-1zM1806 602h1v17h-1zM1809 599h1v2h-1zM1812 597h1v1h-1zM1815 596h1v1h-1zM1822 601h1v8h-1zM1825 592h1v8h-1zM1828 586h1v5h-1zM1831 576h1v12h-1zM1841 561h1v20h-1zM1844 554h1v6h-1zM1850 543h1v13h-1zM1854 540h1v2h-1zM1857 532h1v6h-1zM1860 523h1v8h-1zM1866 529h1v7h-1zM1873 529h1v7h-1zM1876 513h1v14h-1zM1882 513h1v1h-1zM1886 504h1v8h-1zM1892 515h1v1h-1zM1895 502h1v16h-1zM1898 486h1v15h-1zM1908 498h1v6h-1zM1914 477h1v24h-1zM1917 461h1v8h-1zM1924 474h1v9h-1zM1927 489h1v3h-1zM1930 484h1v4h-1zM1933 469h1v8h-1zM1937 458h1v10h-1zM1940 457h1v1h-1zM1943 439h1v7h-1zM1952 392h1v51h-1zM1956 329h1v44h-1zM1962 287h1v30h-1zM1965 246h1v4h-1zM1968 208h1v28h-1zM1978 332h1v18h-1zM1991 379h1v63h-1zM1994 369h1v9h-1zM1997 308h1v63h-1zM2003 259h1v54h-1zM2010 267h1v13h-1zM2019 325h1v11h-1zM2029 372h1v25h-1zM2042 410h1v21h-1zM2048 395h1v42h-1zM2051 362h1v25h-1zM2055 339h1v26h-1zM2058 329h1v4h-1zM2064 367h1v9h-1zM2077 392h1v20h-1zM2080 389h1v2h-1zM2083 372h1v19h-1zM2086 358h1v13h-1zM2096 352h1v39h-1zM2099 345h1v6h-1zM2102 334h1v8h-1zM2112 373h1v45h-1zM2115 372h1v1h-1zM2118 340h1v26h-1zM2121 319h1v18h-1zM2131 337h1v28h-1zM2134 332h1v4h-1zM2137 325h1v6h-1zM2144 319h1v4h-1zM2147 294h1v23h-1zM2150 278h1v13h-1zM2153 258h1v19h-1zM2157 249h1v8h-1zM2160 303h1v1h-1zM2163 291h1v20h-1zM2166 274h1v11h-1zM2172 268h1v4h-1zM2176 244h1v22h-1zM2195 274h1v1h-1zM2201 320h1v6h-1zM2204 316h1v3h-1zM2211 351h1v3h-1zM2214 328h1v22h-1zM2217 311h1v17h-1zM2220 288h1v17h-1zM2230 340h1v15h-1zM2233 323h1v15h-1zM2239 393h1v32h-1zM2246 376h1v17h-1zM2249 375h1v1h-1zM2255 438h1v4h-1zM2262 423h1v9h-1zM2265 382h1v42h-1zM2268 374h1v7h-1zM2281 390h1v10h-1zM2287 376h1v17h-1zM2290 374h1v1h-1zM2294 352h1v16h-1zM2300 427h1v6h-1zM2310 472h1v11h-1zM2313 459h1v22h-1zM2319 454h1v6h-1zM2322 435h1v18h-1zM2335 482h1v10h-1zM2338 459h1v23h-1zM2341 458h1v1h-1zM2345 465h1v3h-1zM2348 438h1v24h-1zM2351 429h1v8h-1zM2361 407h1v32h-1zM2373 488h1v2h-1zM2377 465h1v21h-1zM2386 523h1v3h-1zM2389 493h1v28h-1zM2393 480h1v13h-1zM2399 480h1v4h-1zM2405 500h1v6h-1zM2408 495h1v4h-1zM2418 515h1v6h-1zM2428 552h1v15h-1zM2431 517h1v24h-1zM2440 521h1v18h-1zM2444 498h1v23h-1zM2447 484h1v12h-1zM2450 476h1v5h-1zM2453 448h1v25h-1zM2466 476h1v14h-1zM2479 507h1v10h-1zM2485 502h1v4h-1zM2491 499h1v2h-1zM2495 467h1v21h-1zM2498 457h1v7h-1zM2507 475h1v15h-1zM2510 462h1v11h-1zM2517 444h1v31h-1zM2520 448h1v4h-1zM2530 483h1v9h-1zM2533 464h1v16h-1zM2539 480h1v10h-1zM2555 525h1v4h-1zM2571 567h1v4h-1zM2574 548h1v12h-1zM2577 537h1v1h-1zM2600 605h1v6h-1zM2603 585h1v17h-1zM2606 569h1v17h-1zM2616 591h1v3h-1zM2619 587h1v3h-1zM2622 571h1v16h-1zM2628 555h1v17h-1zM2641 545h1v16h-1zM2651 602h1v4h-1zM2654 602h1v1h-1zM2657 595h1v8h-1zM2660 591h1v3h-1zM2664 571h1v23h-1zM2667 560h1v7h-1zM2670 550h1v8h-1zM2676 545h1v11h-1zM2679 541h1v9h-1zM2683 543h1v13h-1zM2686 530h1v10h-1zM2689 527h1v2h-1zM2695 542h1v1h-1zM2699 531h1v7h-1zM2721 583h1v10h-1zM2724 562h1v18h-1zM2727 551h1v6h-1zM2734 540h1v17h-1zM2737 539h1v1h-1zM2753 558h1v7h-1zM2762 575h1v12h-1zM2766 569h1v2h-1zM2769 566h1v5h-1zM2772 560h1v12h-1zM2775 558h1v9h-1zM2778 554h1v3h-1zM2782 544h1v9h-1zM2785 542h1v1h-1zM2797 569h1v9h-1zM2810 637h1v2h-1zM2817 643h1v4h-1zM2820 632h1v10h-1zM2823 620h1v11h-1zM2833 606h1v24h-1zM2836 603h1v2h-1zM2842 599h1v5h-1zM2845 594h1v3h-1zM2855 551h1v1h-1zM2864 546h1v11h-1zM2868 533h1v12h-1zM2880 554h1v1h-1zM2890 579h1v6h-1zM2893 569h1v9h-1zM2903 605h1v4h-1zM2906 596h1v8h-1zM2919 651h1v8h-1zM2922 629h1v20h-1zM2925 616h1v13h-1zM2928 611h1v4h-1zM2941 630h1v8h-1zM2947 615h1v18h-1zM2957 624h1v1h-1zM2960 616h1v6h-1zM2963 605h1v4h-1zM2970 616h1v6h-1zM2973 614h1v1h-1zM2982 637h1v16h-1zM2986 623h1v13h-1zM2995 616h1v4h-1zM3008 637h1v16h-1zM3014 626h1v17h-1zM3017 618h1v7h-1zM3027 615h1v9h-1zM3037 637h1v2h-1zM3043 639h1v11h-1zM3046 638h1v3h-1zM3049 633h1v3h-1zM3056 622h1v9h-1zM3059 620h1v1h-1zM3065 604h1v15h-1zM3072 597h1v11h-1zM3075 591h1v5h-1zM3078 579h1v10h-1zM3088 594h1v8h-1zM3094 595h1v2h-1zM3097 583h1v10h-1zM3100 570h1v12h-1zM3104 563h1v5h-1zM3110 558h1v9h-1zM3113 551h1v10h-1zM3116 547h1v3h-1zM3126 550h1v13h-1zM3129 542h1v7h-1zM3135 543h1v2h-1zM3139 531h1v11h-1zM3145 539h1v1h-1zM3161 554h1v9h-1zM3174 565h1v1h-1zM3177 556h1v9h-1zM3183 549h1v7h-1zM3186 545h1v3h-1zM3190 536h1v7h-1zM3193 524h1v12h-1zM3196 520h1v3h-1zM3199 512h1v7h-1zM3202 507h1v4h-1zM3209 506h1v6h-1zM3215 496h1v9h-1zM3218 496h1v1h-1zM3222 482h1v13h-1zM3228 476h1v3h-1zM3241 485h1v1h-1zM3247 481h1v4h-1zM3250 459h1v18h-1zM3257 469h1v2h-1zM3263 504h1v3h-1zM3276 527h1v13h-1zM3285 543h1v3h-1zM3289 505h1v35h-1zM3295 512h1v1h-1zM3298 500h1v1h-1zM3301 494h1v5h-1z"/>
<path fill="#fb5f52" d="M4 752h1v3h-1zM7 756h1v3h-1zM23 735h1v2h-1zM30 738h1v7h-1zM33 746h1v2h-1zM46 728h1v7h-1zM55 731h1v1h-1zM65 731h1v1h-1zM71 724h1v7h-1zM74 732h1v11h-1zM84 722h1v1h-1zM100 720h1v10h-1zM106 742h1v2h-1zM119 716h1v1h-1zM125 718h1v3h-1zM148 698h1v2h-1zM167 697h1v6h-1zM170 699h1v1h-1zM176 676h1v3h-1zM180 682h1v2h-1zM183 662h1v45h-1zM186 703h1v4h-1zM189 708h1v2h-1zM192 709h1v8h-1zM199 716h1v2h-1zM208 703h1v6h-1zM211 708h1v6h-1zM215 715h1v10h-1zM218 730h1v3h-1zM221 735h1v10h-1zM224 749h1v7h-1zM231 752h1v1h-1zM234 754h1v9h-1zM237 757h1v8h-1zM240 781h1v14h-1zM243 796h1v2h-1zM250 786h1v4h-1zM253 790h1v4h-1zM256 797h1v6h-1zM285 759h1v3h-1zM288 767h1v12h-1zM291 779h1v12h-1zM294 789h1v14h-1zM298 805h1v8h-1zM301 819h1v7h-1zM307 802h1v12h-1zM310 813h1v7h-1zM314 817h1v13h-1zM317 829h1v38h-1zM320 923h1v31h-1zM326 932h1v10h-1zM329 943h1v20h-1zM336 943h1v45h-1zM339 989h1v10h-1zM342 1000h1v30h-1zM349 1005h1v8h-1zM352 1014h1v1h-1zM361 1009h1v9h-1zM365 1019h1v10h-1zM368 1030h1v16h-1zM374 1021h1v9h-1zM384 965h1v8h-1zM387 961h1v12h-1zM393 959h1v17h-1zM396 958h1v17h-1zM400 976h1v16h-1zM403 993h1v14h-1zM409 1001h1v3h-1zM412 1005h1v19h-1zM416 1025h1v48h-1zM428 1058h1v10h-1zM441 1015h1v2h-1zM451 971h1v20h-1zM454 992h1v1h-1zM460 982h1v9h-1zM467 990h1v5h-1zM479 945h1v6h-1zM489 942h1v6h-1zM498 941h1v10h-1zM524 891h1v11h-1zM534 902h1v18h-1zM546 903h1v1h-1zM559 885h1v3h-1zM562 889h1v17h-1zM569 901h1v1h-1zM575 896h1v3h-1zM585 885h1v2h-1zM597 886h1v4h-1zM604 884h1v3h-1zM613 881h1v1h-1zM620 884h1v1h-1zM626 875h1v1h-1zM629 877h1v6h-1zM645 881h1v4h-1zM664 869h1v5h-1zM671 871h1v2h-1zM677 867h1v1h-1zM680 869h1v1h-1zM690 867h1v1h-1zM693 869h1v1h-1zM696 871h1v3h-1zM709 863h1v5h-1zM722 863h1v11h-1zM725 875h1v1h-1zM728 877h1v12h-1zM731 890h1v3h-1zM734 894h1v16h-1zM741 904h1v3h-1zM744 908h1v2h-1zM747 911h1v1h-1zM760 883h1v1h-1zM763 885h1v12h-1zM769 896h1v1h-1zM782 891h1v10h-1zM785 902h1v1h-1zM792 905h1v10h-1zM801 889h1v5h-1zM808 883h1v3h-1zM811 887h1v8h-1zM821 883h1v1h-1zM824 885h1v1h-1zM827 886h1v2h-1zM833 886h1v10h-1zM840 891h1v4h-1zM843 896h1v9h-1zM849 900h1v16h-1zM852 917h1v10h-1zM856 928h1v2h-1zM872 905h1v8h-1zM884 880h1v1h-1zM887 884h1v3h-1zM900 876h1v1h-1zM916 841h1v6h-1zM923 846h1v2h-1zM926 849h1v1h-1zM938 837h1v2h-1zM942 840h1v1h-1zM954 827h1v2h-1zM970 812h1v11h-1zM974 825h1v3h-1zM983 820h1v2h-1zM996 817h1v4h-1zM1005 796h1v1h-1zM1012 781h1v3h-1zM1021 777h1v4h-1zM1025 779h1v9h-1zM1028 789h1v2h-1zM1041 783h1v4h-1zM1050 783h1v1h-1zM1053 784h1v1h-1zM1085 740h1v1h-1zM1101 710h1v9h-1zM1104 725h1v1h-1zM1117 694h1v1h-1zM1120 695h1v5h-1zM1123 713h1v7h-1zM1127 725h1v4h-1zM1139 672h1v12h-1zM1143 686h1v3h-1zM1152 675h1v1h-1zM1155 677h1v1h-1zM1158 679h1v3h-1zM1162 683h1v3h-1zM1165 689h1v34h-1zM1174 716h1v28h-1zM1181 719h1v15h-1zM1190 710h1v6h-1zM1194 717h1v4h-1zM1200 715h1v17h-1zM1213 726h1v1h-1zM1235 694h1v4h-1zM1238 701h1v6h-1zM1241 708h1v1h-1zM1248 703h1v1h-1zM1261 684h1v8h-1zM1270 676h1v2h-1zM1273 679h1v5h-1zM1276 685h1v1h-1zM1283 683h1v1h-1zM1289 680h1v14h-1zM1299 675h1v5h-1zM1302 683h1v13h-1zM1305 697h1v12h-1zM1369 640h1v5h-1zM1391 623h1v9h-1zM1394 633h1v1h-1zM1410 615h1v19h-1zM1414 634h1v8h-1zM1423 625h1v3h-1zM1430 621h1v11h-1zM1433 635h1v6h-1zM1436 642h1v1h-1zM1439 648h1v33h-1zM1471 629h1v18h-1zM1474 647h1v3h-1zM1477 652h1v15h-1zM1484 661h1v3h-1zM1487 670h1v6h-1zM1496 660h1v1h-1zM1500 662h1v3h-1zM1503 671h1v2h-1zM1506 673h1v4h-1zM1509 680h1v4h-1zM1512 691h1v7h-1zM1516 698h1v10h-1zM1528 655h1v6h-1zM1538 643h1v3h-1zM1541 647h1v10h-1zM1548 647h1v2h-1zM1551 650h1v1h-1zM1554 653h1v3h-1zM1560 651h1v6h-1zM1579 626h1v1h-1zM1583 629h1v9h-1zM1602 596h1v1h-1zM1621 571h1v10h-1zM1637 564h1v1h-1zM1646 552h1v3h-1zM1656 544h1v9h-1zM1669 543h1v10h-1zM1672 554h1v1h-1zM1685 559h1v15h-1zM1688 579h1v7h-1zM1701 552h1v17h-1zM1707 569h1v4h-1zM1717 575h1v13h-1zM1723 584h1v15h-1zM1739 579h1v69h-1zM1742 641h1v1h-1zM1745 636h1v29h-1zM1748 672h1v7h-1zM1768 623h1v11h-1zM1774 629h1v6h-1zM1777 636h1v3h-1zM1780 640h1v3h-1zM1787 636h1v6h-1zM1790 649h1v8h-1zM1803 618h1v3h-1zM1819 601h1v7h-1zM1834 576h1v1h-1zM1838 578h1v5h-1zM1863 523h1v1h-1zM1870 529h1v11h-1zM1879 513h1v1h-1zM1889 504h1v11h-1zM1901 486h1v3h-1zM1905 491h1v13h-1zM1911 498h1v1h-1zM1921 465h1v18h-1zM1946 426h1v20h-1zM1949 416h1v8h-1zM1959 310h1v37h-1zM1972 190h1v152h-1zM1975 332h1v23h-1zM1981 328h1v47h-1zM1984 390h1v41h-1zM1988 438h1v8h-1zM2000 296h1v13h-1zM2007 260h1v19h-1zM2013 273h1v58h-1zM2016 332h1v18h-1zM2023 329h1v37h-1zM2026 391h1v6h-1zM2032 364h1v14h-1zM2035 387h1v35h-1zM2039 418h1v9h-1zM2045 407h1v36h-1zM2061 329h1v44h-1zM2067 367h1v6h-1zM2070 367h1v10h-1zM2074 389h1v23h-1zM2090 372h1v8h-1zM2093 372h1v19h-1zM2106 329h1v54h-1zM2109 389h1v23h-1zM2125 318h1v18h-1zM2128 329h1v29h-1zM2169 261h1v14h-1zM2179 243h1v4h-1zM2182 249h1v6h-1zM2188 258h1v4h-1zM2192 266h1v7h-1zM2198 279h1v47h-1zM2208 317h1v21h-1zM2224 288h1v11h-1zM2227 303h1v9h-1zM2236 325h1v83h-1zM2243 395h1v33h-1zM2252 382h1v54h-1zM2259 437h1v1h-1zM2271 374h1v1h-1zM2275 380h1v20h-1zM2278 401h1v3h-1zM2284 390h1v4h-1zM2297 400h1v30h-1zM2303 434h1v22h-1zM2306 455h1v22h-1zM2316 459h1v1h-1zM2326 437h1v8h-1zM2329 450h1v19h-1zM2332 479h1v11h-1zM2354 425h1v12h-1zM2357 438h1v1h-1zM2364 409h1v39h-1zM2367 433h1v24h-1zM2370 470h1v20h-1zM2380 469h1v18h-1zM2383 489h1v37h-1zM2396 478h1v6h-1zM2402 475h1v30h-1zM2412 504h1v11h-1zM2415 515h1v6h-1zM2421 515h1v35h-1zM2424 547h1v20h-1zM2434 519h1v3h-1zM2437 523h1v3h-1zM2456 441h1v20h-1zM2459 464h1v12h-1zM2463 482h1v9h-1zM2469 489h1v20h-1zM2475 507h1v15h-1zM2482 507h1v1h-1zM2501 460h1v4h-1zM2504 461h1v11h-1zM2514 469h1v4h-1zM2523 446h1v22h-1zM2526 470h1v20h-1zM2536 465h1v20h-1zM2542 478h1v9h-1zM2546 489h1v23h-1zM2549 511h1v18h-1zM2552 530h1v1h-1zM2558 523h1v25h-1zM2562 549h1v1h-1zM2565 547h1v14h-1zM2568 562h1v2h-1zM2581 538h1v8h-1zM2584 546h1v23h-1zM2587 565h1v28h-1zM2590 590h1v19h-1zM2593 609h1v8h-1zM2597 615h1v2h-1zM2609 568h1v11h-1zM2613 579h1v15h-1zM2625 569h1v8h-1zM2632 551h1v2h-1zM2635 555h1v9h-1zM2638 569h1v3h-1zM2644 543h1v31h-1zM2648 573h1v34h-1zM2673 549h1v5h-1zM2692 527h1v14h-1zM2702 531h1v5h-1zM2705 537h1v14h-1zM2708 551h1v3h-1zM2711 548h1v19h-1zM2715 565h1v8h-1zM2718 574h1v16h-1zM2731 552h1v3h-1zM2740 545h1v1h-1zM2743 546h1v2h-1zM2746 549h1v1h-1zM2750 554h1v12h-1zM2756 560h1v7h-1zM2759 571h1v15h-1zM2788 541h1v24h-1zM2791 568h1v1h-1zM2794 572h1v5h-1zM2801 570h1v14h-1zM2804 587h1v23h-1zM2807 612h1v32h-1zM2813 637h1v11h-1zM2826 624h1v1h-1zM2829 627h1v3h-1zM2839 600h1v4h-1zM2848 543h1v8h-1zM2861 550h1v7h-1zM2871 534h1v7h-1zM2877 540h1v13h-1zM2884 552h1v13h-1zM2887 569h1v13h-1zM2896 570h1v14h-1zM2900 585h1v24h-1zM2909 590h1v5h-1zM2912 597h1v31h-1zM2915 628h1v24h-1zM2931 612h1v6h-1zM2935 619h1v11h-1zM2938 629h1v7h-1zM2944 627h1v3h-1zM2951 618h1v5h-1zM2966 605h1v15h-1zM2976 616h1v26h-1zM2979 643h1v5h-1zM2989 610h1v6h-1zM2992 617h1v2h-1zM2998 616h1v6h-1zM3002 627h1v4h-1zM3005 632h1v23h-1zM3011 639h1v4h-1zM3021 618h1v3h-1zM3024 622h1v1h-1zM3030 615h1v23h-1zM3040 638h1v14h-1zM3053 631h1v2h-1zM3069 603h1v5h-1zM3081 578h1v14h-1zM3084 597h1v5h-1zM3091 593h1v1h-1zM3107 566h1v1h-1zM3120 550h1v1h-1zM3123 544h1v21h-1zM3132 542h1v5h-1zM3142 532h1v7h-1zM3148 539h1v2h-1zM3151 542h1v10h-1zM3155 549h1v14h-1zM3158 559h1v6h-1zM3164 554h1v1h-1zM3167 555h1v3h-1zM3171 559h1v6h-1zM3180 553h1v3h-1zM3206 505h1v6h-1zM3212 505h1v1h-1zM3231 474h1v3h-1zM3234 476h1v7h-1zM3237 484h1v2h-1zM3244 482h1v3h-1zM3253 458h1v9h-1zM3260 494h1v11h-1zM3266 504h1v40h-1zM3269 545h1v12h-1zM3279 527h1v2h-1zM3282 530h1v14h-1zM3292 504h1v9h-1zM3304 486h1v7h-1z"/>
<line x1="2" y1="493.5" x2="3323" y2="493.5" stroke="#4d72f5" stroke-width="1" stroke-dasharray="2 1"/>
<rect x="2" y="1160" width="3322" height="1" fill="#555"/>
<rect x="3323" y="3" width="1" height="1158" fill="#555"/>
<rect x="3324" y="34" width="3" height="1" fill="#555"/>
<rect x="3324" y="82" width="3" height="1" fill="#555"/>
<rect x="3324" y="129" width="3" height="1" fill="#555"/>
<rect x="3324" y="177" width="3" height="1" fill="#555"/>
<rect x="3324" y="225" width="3" height="1" fill="#555"/>
<rect x="3324" y="273" width="3" height="1" fill="#555"/>
<rect x="3324" y="320" width="3" height="1" fill="#555"/>
<rect x="3324" y="368" width="3" height="1" fill="#555"/>
<rect x="3324" y="416" width="3" height="1" fill="#555"/>
<rect x="3324" y="464" width="3" height="1" fill="#555"/>
<rect x="3324" y="511" width="3" height="1" fill="#555"/>
<rect x="3324" y="559" width="3" height="1" fill="#555"/>
<rect x="3324" y="607" width="3" height="1" fill="#555"/>
<rect x="3324" y="655" width="3" height="1" fill="#555"/>
<rect x="3324" y="702" width="3" height="1" fill="#555"/>
<rect x="3324" y="750" width="3" height="1" fill="#555"/>
<rect x="3324" y="798" width="3" height="1" fill="#555"/>
<rect x="3324" y="846" width="3" height="1" fill="#555"/>
<rect x="3324" y="893" width="3" height="1" fill="#555"/>
<rect x="3324" y="941" width="3" height="1" fill="#555"/>
<rect x="3324" y="989" width="3" height="1" fill="#555"/>
<rect x="3324" y="1037" width="3" height="1" fill="#555"/>
<rect x="3324" y="1084" width="3" height="1" fill="#555"/>
<rect x="3324" y="1132" width="3" height="1" fill="#555"/>
<rect x="37" y="1161" width="1" height="3" fill="#555"/>
<rect x="171" y="1161" width="1" height="3" fill="#555"/>
<rect x="305" y="1161" width="1" height="3" fill="#555"/>
<rect x="442" y="1161" width="1" height="3" fill="#555"/>
<rect x="579" y="1161" width="1" height="3" fill="#555"/>
<rect x="719" y="1161" width="1" height="3" fill="#555"/>
<rect x="860" y="1161" width="1" height="3" fill="#555"/>
<rect x="997" y="1161" width="1" height="3" fill="#555"/>
<rect x="1124" y="1161" width="1" height="3" fill="#555"/>
<rect x="1265" y="1161" width="1" height="3" fill="#555"/>
<rect x="1402" y="1161" width="1" height="3" fill="#555"/>
<rect x="1542" y="1161" width="1" height="3" fill="#555"/>
<rect x="1679" y="1161" width="1" height="3" fill="#555"/>
<rect x="1823" y="1161" width="1" height="3" fill="#555"/>
<rect x="1953" y="1161" width="1" height="3" fill="#555"/>
<rect x="2091" y="1161" width="1" height="3" fill="#555"/>
<rect x="2231" y="1161" width="1" height="3" fill="#555"/>
<rect x="2371" y="1161" width="1" height="3" fill="#555"/>
<rect x="2508" y="1161" width="1" height="3" fill="#555"/>
<rect x="2645" y="1161" width="1" height="3" fill="#555"/>
<rect x="2776" y="1161" width="1" height="3" fill="#555"/>
<rect x="2910" y="1161" width="1" height="3" fill="#555"/>
<rect x="3054" y="1161" width="1" height="3" fill="#555"/>
<rect x="3194" y="1161" width="1" height="3" fill="#555"/>
<rect x="3270" y="1161" width="1" height="3" fill="#555"/>
</g></svg>
<div class="yl" style="top:28.9px">150.00%</div>
<div class="yl" style="top:76.7px">140.00%</div>
<div class="yl" style="top:124.4px">130.00%</div>
<div class="yl" style="top:172.2px">120.00%</div>
<div class="yl" style="top:219.9px">110.00%</div>
<div class="yl" style="top:267.7px">100.00%</div>
<div class="yl" style="top:315.4px">90.00%</div>
<div class="yl" style="top:363.2px">80.00%</div>
<div class="yl" style="top:410.9px">70.00%</div>
<div class="yl" style="top:458.7px">60.00%</div>
<div class="yl" style="top:506.4px">50.00%</div>
<div class="yl" style="top:554.2px">40.00%</div>
<div class="yl" style="top:601.9px">30.00%</div>
<div class="yl" style="top:649.7px">20.00%</div>
<div class="yl" style="top:697.4px">10.00%</div>
<div class="yl" style="top:745.2px">0.00%</div>
<div class="yl" style="top:793.0px">-10.00%</div>
<div class="yl" style="top:840.7px">-20.00%</div>
<div class="yl" style="top:888.5px">-30.00%</div>
<div class="yl" style="top:936.2px">-40.00%</div>
<div class="yl" style="top:984.0px">-50.00%</div>
<div class="yl" style="top:1031.7px">-60.00%</div>
<div class="yl" style="top:1079.5px">-70.00%</div>
<div class="yl" style="top:1127.2px">-80.00%</div>
<div class="xl" style="left:7.4px">Nov</div>
<div class="xl b" style="left:141.3px">2020</div>
<div class="xl" style="left:275.5px">Mar</div>
<div class="xl" style="left:412.4px">May</div>
<div class="xl" style="left:549.3px">Jul</div>
<div class="xl" style="left:689.5px">Sep</div>
<div class="xl" style="left:830.7px">Nov</div>
<div class="xl b" style="left:967.6px">2021</div>
<div class="xl" style="left:1094.5px">Mar</div>
<div class="xl" style="left:1235.0px">May</div>
<div class="xl" style="left:1372.6px">Jul</div>
<div class="xl" style="left:1512.8px">Sep</div>
<div class="xl" style="left:1649.7px">Nov</div>
<div class="xl b" style="left:1793.6px">2022</div>
<div class="xl" style="left:1923.5px">Mar</div>
<div class="xl" style="left:2061.4px">May</div>
<div class="xl" style="left:2201.6px">Jul</div>
<div class="xl" style="left:2341.5px">Sep</div>
<div class="xl" style="left:2478.7px">Nov</div>
<div class="xl b" style="left:2615.2px">2023</div>
<div class="xl" style="left:2746.4px">Mar</div>
<div class="xl" style="left:2880.3px">May</div>
<div class="xl" style="left:3024.6px">Jul</div>
<div class="xl" style="left:3164.5px">Sep</div>
<div class="xl" style="left:3240.7px">5</div>
<!-- header -->
<div class="abs" style="left:7px;top:15px;width:13px;height:13px;border:1px solid #555;border-radius:2px;box-sizing:border-box;"></div>
<div class="abs" style="left:9px;top:21px;width:9px;height:1px;background:#555;"></div>
<div class="abs" id="t1" style="left:26px;top:13px;font-size:17px;line-height:20px;color:#3c3c3c;letter-spacing:0px;-webkit-text-stroke:0.2px #3c3c3c;">Brent Oil Futures, D, (CFD)</div>
<div class="abs" style="left:235px;top:20px;width:0;height:0;border-left:4px solid transparent;border-right:4px solid transparent;border-top:4px solid #c4c6c9;"></div>
<div class="ic" style="left:253px;top:15px;"></div>
<div class="ic" style="left:270px;top:15px;"></div>
<svg class="abs" style="left:253px;top:15px" width="14" height="14" viewBox="0 0 14 14"><path d="M1.6 6.9Q6.8 -1.3 12 6.9Q6.8 15.1 1.6 6.9z" fill="#fff"/><circle cx="6.8" cy="6.9" r="2.5" fill="#d9d9d9"/><circle cx="6.8" cy="6.9" r="1.15" fill="#fff"/></svg>
<svg class="abs" style="left:270px;top:15px" width="14" height="14" viewBox="0 0 14 14"><g transform="translate(6.85 6.9)" fill="#fff"><circle r="3.9"/><rect x="-1.25" y="-5.1" width="2.5" height="10.2"/><rect x="-1.25" y="-5.1" width="2.5" height="10.2" transform="rotate(45)"/><rect x="-1.25" y="-5.1" width="2.5" height="10.2" transform="rotate(90)"/><rect x="-1.25" y="-5.1" width="2.5" height="10.2" transform="rotate(135)"/><circle r="1.95" fill="#d9d9d9"/></g></svg>
<div class="abs ohl" style="left:291.4px;color:#555;">O</div><div class="abs ohn" style="left:303.7px;">93.23</div>
<div class="abs ohl" style="left:349.5px;color:#555;">H</div><div class="abs ohn" style="left:362.2px;">93.79</div>
<div class="abs ohl" style="left:407.3px;color:#555;">L</div><div class="abs ohn" style="left:417.1px;">91.66</div>
<div class="abs ohl" style="left:462.6px;color:#555;">C</div><div class="abs ohn" style="left:474.4px;">92.16</div>
<div class="abs" id="t3" style="left:7px;top:35.5px;font-size:12px;line-height:14px;color:#555;letter-spacing:-0.55px;">GC, (CFD)</div>
<div class="abs" style="left:64px;top:41px;width:0;height:0;border-left:4px solid transparent;border-right:4px solid transparent;border-top:4px solid #c4c6c9;"></div>
<div class="ic" style="left:82px;top:36px;"></div>
<div class="ic" style="left:99px;top:36px;"></div>
<div class="ic" style="left:116px;top:36px;"></div>
<svg class="abs" style="left:82px;top:36px" width="14" height="14" viewBox="0 0 14 14"><path d="M1.6 6.9Q6.8 -1.3 12 6.9Q6.8 15.1 1.6 6.9z" fill="#fff"/><circle cx="6.8" cy="6.9" r="2.5" fill="#d9d9d9"/><circle cx="6.8" cy="6.9" r="1.15" fill="#fff"/></svg>
<svg class="abs" style="left:99px;top:36px" width="14" height="14" viewBox="0 0 14 14"><g transform="translate(6.85 6.9)" fill="#fff"><circle r="3.9"/><rect x="-1.25" y="-5.1" width="2.5" height="10.2"/><rect x="-1.25" y="-5.1" width="2.5" height="10.2" transform="rotate(45)"/><rect x="-1.25" y="-5.1" width="2.5" height="10.2" transform="rotate(90)"/><rect x="-1.25" y="-5.1" width="2.5" height="10.2" transform="rotate(135)"/><circle r="1.95" fill="#d9d9d9"/></g></svg>
<svg class="abs" style="left:116px;top:36px" width="14" height="14" viewBox="0 0 14 14"><path d="M2.6 2.7l8.6 8.6M11.2 2.7l-8.6 8.6" stroke="#fff" stroke-width="1.9" fill="none"/></svg>
<div class="abs" id="t4" style="left:138px;top:35.5px;font-size:12px;line-height:14px;color:#8b1a8b;letter-spacing:-0.2px;">1994.40</div>
<!-- market closed -->
<div class="abs" style="left:3231px;top:18px;width:6px;height:6px;border-radius:3px;background:#999;"></div>
<div class="abs" id="mc" style="left:3241px;top:14.5px;font-size:12px;line-height:14px;color:#aaa;letter-spacing:-0.12px;">Market Closed</div>
<!-- price labels -->
<div class="abs" style="left:3324px;top:486px;width:48px;height:16px;background:#4a6fe3;"></div>
<div class="abs" style="left:3324px;top:493px;width:3px;height:1px;background:#fff;"></div>
<div class="abs" style="left:3330.5px;top:488px;font-size:11px;line-height:12px;font-weight:bold;color:#fff;">53.83%</div>
<div class="abs" style="left:3324px;top:585px;width:47px;height:16px;background:#800080;"></div>
<div class="abs" style="left:3324px;top:592px;width:3px;height:1px;background:#fff;"></div>
<div class="abs" style="left:3330.5px;top:587px;font-size:11px;line-height:12px;font-weight:bold;color:#fff;">33.11%</div>
<!-- logo -->
<div class="abs" id="lg" style="left:13.9px;top:1122.6px;font-size:22.5px;line-height:26px;font-weight:bold;color:#000;-webkit-text-stroke:0.45px #000;transform-origin:0 0;transform:scaleX(0.925);">Invest&#305;ng</div>
<div class="abs" id="lg2" style="left:105.5px;top:1128.3px;font-size:16px;line-height:20px;color:#444;transform-origin:0 0;transform:scaleX(0.828);">.com</div>
<svg class="abs" style="left:73px;top:1123px" width="9" height="9" viewBox="0 0 9 9"><path d="M1.7 7.6C1.0 5.0 3.2 2.0 6.5 1.9C7.3 4.6 5.0 7.6 1.7 7.6z" fill="#ffa200"/></svg>

</body></html>
